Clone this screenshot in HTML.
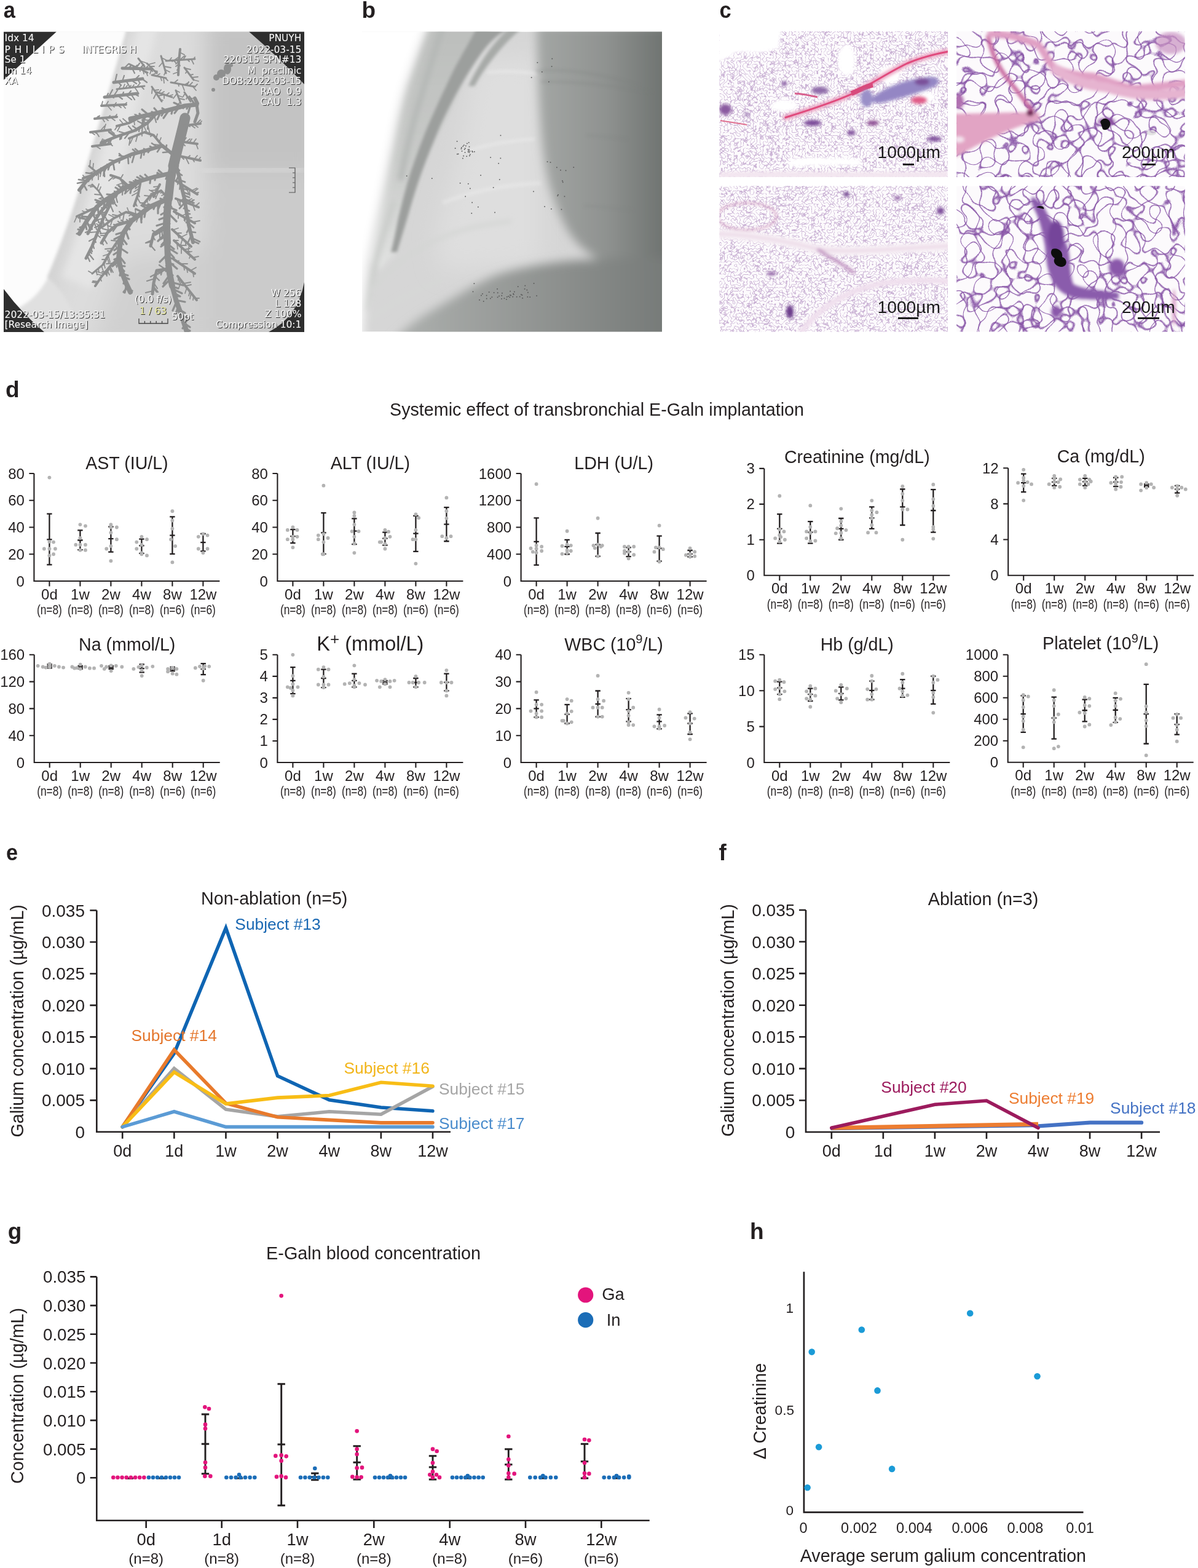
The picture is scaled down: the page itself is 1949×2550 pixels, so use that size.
<!DOCTYPE html><html><head><meta charset="utf-8"><title>Figure</title><style>html,body{margin:0;padding:0;background:#fff;}svg{display:block;}</style></head><body>
<svg width="1949" height="2550" viewBox="0 0 1949 2550" font-family="'Liberation Sans', Arial, Helvetica, sans-serif" fill="#231f20">
<rect width="1949" height="2550" fill="#fff"/>
<defs><clipPath id="cpa"><rect x="6" y="51.5" width="489" height="488.6"/></clipPath><filter id="blA" x="-50%" y="-50%" width="200%" height="200%"><feGaussianBlur stdDeviation="18"/></filter><filter id="blA2" x="-50%" y="-50%" width="200%" height="200%"><feGaussianBlur stdDeviation="6"/></filter><filter id="blT"><feGaussianBlur stdDeviation="0.6"/></filter><filter id="txo" x="-5%" y="-20%" width="110%" height="140%"><feOffset in="SourceAlpha" dx="0.9" dy="0.9" result="d"/><feFlood flood-color="#2a2a2a"/><feComposite in2="d" operator="in"/><feMerge><feMergeNode/><feMergeNode in="SourceGraphic"/></feMerge></filter></defs>
<g clip-path="url(#cpa)">
<rect x="6" y="51.5" width="489" height="488.6" fill="#d2d2d2"/>
<g filter="url(#blA)">
<path d="M200 30 L335 30 L335 300 L330 560 L60 560 C110 420 150 250 200 30Z" fill="#dcdcdc"/>
<path d="M200 420 L335 400 L335 560 L150 560Z" fill="#d0d0d0"/>
<path d="M335 30 L520 30 L520 277 L335 277Z" fill="#c3c3c3"/>
<path d="M335 277 L520 277 L520 560 L335 560Z" fill="#cbcbcb"/>
</g>
<g filter="url(#blA2)">
<path d="M230 30 C205 110 185 180 168 240 C150 310 125 390 100 450 L150 470 C170 400 190 320 205 250 C220 180 240 110 260 30Z" fill="#e5e5e5"/>
</g>
<filter id="blA3" x="-50%" y="-50%" width="200%" height="200%"><feGaussianBlur stdDeviation="2.5"/></filter>
<g filter="url(#blA3)">
<path d="M-10 30 L210 30 C193 100 170 180 150 245 C128 320 103 395 78 452 C60 485 35 505 -10 515Z" fill="#fcfcfc"/>
<path d="M-10 515 C35 505 60 485 78 452 C100 470 120 500 140 560 L-10 560Z" fill="#e0e0e0"/>
<path d="M210 40 C193 100 170 180 150 245 C128 320 103 395 78 452" fill="none" stroke="#d4d4d4" stroke-width="4"/>
</g>
<path d="M330 279 L495 275" stroke="#e8e8e8" stroke-width="4" filter="url(#blA2)"/>
<g fill="none" stroke="#8e8f8f" stroke-linecap="round" stroke-linejoin="round" filter="url(#blT)">
<path d="M301 192 L298 205 L293 225 L288 245 L282 270" stroke-width="17"/>
<path d="M282 270 L277 295 L274 323" stroke-width="14"/>
<path d="M274 323 L272 345 L271 366 L272 395" stroke-width="12"/>
<path d="M274 328 L279 337M273 332 L267 337M273 336 L287 342M272 343 L262 349M272 345 L287 360M272 352 L259 357M271 358 L276 364M271 362 L255 367M271 371 L253 382M271 378 L257 392M272 383 L261 389M272 388 L263 398M272 394 L262 401M272 396 L283 405M272 402 L288 412M273 408 L283 419M273 413 L260 426M273 418 L284 422M273 424 L288 437M274 427 L282 430M275 433 L260 444M275 438 L270 441M276 443 L281 448M276 447 L266 461M278 453 L265 466M279 459 L298 464M280 466 L290 469M281 470 L296 477M283 476 L293 482M284 481 L292 482M286 488 L301 491M287 491 L281 505M290 498 L286 510M292 504 L301 509M293 507 L291 515M296 514 L307 518M297 519 L304 522M299 525 L309 532M301 529 L297 534M303 535 L309 538M273 323 L267 321M268 326 L261 323M262 329 L257 341M257 331 L257 347M253 332 L250 340M248 335 L241 332M245 336 L232 332M240 339 L230 334M237 342 L235 353M232 345 L221 340M229 348 L230 362M226 350 L211 345M223 352 L215 350M217 357 L211 356M214 359 L213 364M211 363 L196 362M208 369 L211 373M204 374 L209 388M202 377 L189 381M200 382 L186 389M198 386 L206 397M197 393 L192 397M195 400 L186 407M195 403 L207 411M194 408 L185 414M193 415 L203 428M193 419 L186 422M194 424 L183 433M195 432 L203 433M196 435 L202 441M197 440 L195 448M199 445 L208 448M201 450 L210 454M203 456 L201 461M206 462 L203 476M208 466 L201 475M210 471 L215 473" stroke-width="3.2"/>
<path d="M272 395 L273 420 L276 445 L280 465" stroke-width="10"/>
<path d="M280 465 L287 490 L295 512 L304 540M274 323 L243 337 L214 359 L200 380 L195 400 L193 420 L197 440 L205 460 L212 475" stroke-width="8"/>
<path d="M320 170 L301 172 L278 178 L255 184 L232 189 L212 193M277 282 L250 288 L229 294 L207 304 L186 316 L170 326 L157 337 L142 358 L129 380" stroke-width="7"/>
<path d="M317 170 L308 157M310 171 L306 184M306 172 L304 177M300 172 L298 176M296 173 L283 167M291 175 L284 184M287 176 L287 180M281 177 L279 185M275 179 L266 192M271 180 L264 176M267 181 L263 188M261 183 L256 194M257 183 L251 176M252 185 L242 197M249 185 L247 182M242 187 L231 178M237 188 L232 202M234 189 L231 204M230 189 L227 185M224 191 L221 187M216 192 L210 200M273 283 L270 291M266 284 L258 277M262 285 L256 281M258 286 L256 283M253 287 L252 293M245 289 L244 298M242 290 L236 284M236 292 L228 286M232 293 L223 288M225 296 L220 294M220 298 L211 296M215 300 L212 314M210 303 L199 293M206 305 L204 314M200 308 L193 302M196 310 L188 305M192 313 L189 320M184 317 L174 316M179 321 L175 332M176 322 L174 330M171 325 L169 335M167 329 L155 325M164 331 L157 329M159 335 L160 346M156 338 L144 342M153 343 L153 351M150 347 L157 359M146 353 L133 352M143 357 L128 354M141 359 L147 373M139 364 L141 373M136 368 L130 370M132 374 L127 373M129 380 L125 380" stroke-width="3.1"/>
<path d="M320 170 L322 184 L317 198M229 294 L214 306 L200 304 L182 324 L164 344 L152 362 L143 380M186 316 L178 335 L168 355 L160 375 L150 400 L140 420M214 359 L190 366 L175 378 L165 395M271 366 L250 380 L245 400M276 437 L255 440 L250 460 L248 478M199 111 L247 112M185 134 L232 128M170 158 L224 152M255 184 L240 200 L220 212 L190 222 L165 232" stroke-width="5"/>
<path d="M286 266 L292 290 L300 323 L307 366 L314 394M280 250 L264 237 L240 244 L214 251 L186 263 L157 280 L140 295 L129 309M317 160 L321 168" stroke-width="6"/>
<path d="M286 268 L290 270M288 274 L292 277M289 280 L296 285M291 284 L287 293M293 293 L301 296M295 301 L300 303M296 306 L305 309M297 312 L307 316M298 317 L308 321M300 322 L293 328M300 325 L311 329M301 329 L292 339M302 336 L299 339M303 341 L308 343M304 347 L309 348M305 352 L300 358M306 358 L303 362M306 362 L315 370M308 371 L304 378M310 377 L318 378M311 383 L306 394M312 387 L325 393M314 392 L323 396M276 247 L265 248M270 242 L271 236M267 239 L259 239M262 238 L256 247M256 239 L247 233M249 241 L244 238M245 243 L241 248M238 244 L234 242M235 245 L234 252M231 246 L229 257M227 248 L220 242M223 249 L216 243M219 250 L215 264M212 252 L212 256M208 253 L209 266M205 255 L194 253M201 257 L194 250M195 259 L194 265M188 262 L178 260M184 264 L186 276M179 267 L176 276M174 270 L169 281M169 273 L170 287M164 276 L163 282M161 278 L159 283M156 281 L157 285M153 283 L140 281M148 288 L137 288M145 291 L144 295M141 294 L128 292M140 295 L126 298M136 300 L141 309M131 306 L131 314" stroke-width="2.7"/>
<path d="M293 230 L321 234M293 254 L326 261M286 294 L321 316M286 323 L323 337M283 344 L317 363M280 373 L311 401M283 391 L317 422M283 422 L317 445M289 449 L320 488M296 205 L326 201M200 380 L186 400 L176 415 L168 430M193 420 L180 432 L172 445M274 323 L262 310 L245 318 L235 330M260 300 L250 320M243 337 L225 350 L205 345 L185 355 L165 370M157 337 L140 345 L125 352M207 304 L195 290 L180 285M186 263 L170 275 L150 285 L135 290M180 432 L165 450 L155 465M229 294 L225 315 L218 335M165 172 L205 170M154 193 L190 190M147 215 L180 211M150 238 L180 234M232 189 L210 200 L190 205M264 237 L250 220 L235 215 L210 225M293 80 L291 100 L290 122" stroke-width="4"/>
<path d="M294 230 L301 237M298 231 L303 224M303 231 L309 226M308 232 L312 226M314 233 L319 226M319 234 L322 242M295 255 L299 259M302 256 L307 266M305 257 L309 253M313 258 L316 263M316 259 L321 253M323 260 L326 256M289 296 L289 300M293 299 L292 308M297 301 L298 307M303 305 L307 315M308 308 L309 318M312 310 L320 306M315 312 L322 307M318 314 L323 313M288 324 L292 334M292 325 L294 336M296 327 L300 334M302 329 L308 325M307 331 L316 325M311 332 L316 330M314 334 L317 342M318 335 L324 330M285 345 L287 349M290 348 L290 355M296 351 L304 347M299 353 L301 360M303 355 L312 354M307 357 L307 362M314 361 L325 359M281 374 L290 371M286 379 L295 379M289 382 L291 387M294 386 L304 381M297 388 L294 398M302 393 L302 399M308 398 L306 409M283 391 L290 391M288 396 L289 405M292 399 L303 399M295 402 L295 412M300 406 L309 404M303 409 L309 409M305 411 L312 409M310 415 L308 420M314 419 L323 417M287 425 L291 424M293 429 L305 429M299 433 L300 439M304 436 L305 443M310 440 L319 435M314 443 L315 450M290 451 L290 456M292 453 L292 459M295 457 L291 468M299 461 L310 459M302 465 L311 463M304 468 L301 477M309 474 L307 481M311 476 L309 486M315 482 L314 488M318 485 L324 485M299 205 L302 210M305 204 L309 206M310 203 L317 208M315 202 L322 207M319 202 L326 195M325 201 L328 197M198 383 L198 389M195 387 L201 398M192 392 L181 391M189 396 L189 402M183 404 L171 405M180 409 L175 408M177 413 L168 416M176 415 L179 426M174 418 L177 427M172 422 L166 422M169 428 L171 436M191 421 L191 433M187 426 L190 435M184 428 L173 429M180 432 L181 442M178 436 L181 443M175 441 L178 447M172 445 L174 449M274 323 L264 324M271 319 L273 314M268 316 L263 318M265 313 L261 314M258 312 L253 323M252 314 L243 309M248 317 L243 326M244 319 L235 318M239 325 L240 329M235 330 L228 330M259 303 L250 304M257 306 L253 307M255 309 L245 310M254 312 L245 315M252 317 L254 322M241 339 L232 336M235 343 L228 343M232 345 L231 357M226 350 L222 361M221 349 L220 340M215 348 L210 351M210 346 L207 338M202 347 L200 358M198 348 L194 344M195 350 L195 355M192 351 L183 349M187 354 L177 349M183 357 L180 366M180 359 L172 358M175 362 L176 373M171 366 L160 362M166 369 L157 364M157 337 L157 342M154 339 L152 348M150 340 L150 345M145 343 L140 340M139 345 L134 343M135 347 L133 353M130 350 L130 361M125 352 L121 361M170 326 L161 323M167 322 L163 322M165 317 L154 316M161 311 L164 304M158 308 L161 299M153 303 L147 304M151 301 L144 302M205 302 L199 303M201 297 L190 301M196 291 L200 284M190 288 L184 291M185 287 L177 294M184 265 L186 276M178 269 L174 267M172 274 L164 273M169 276 L168 286M165 277 L163 287M160 280 L160 292M154 283 L148 281M151 285 L150 293M148 286 L147 291M142 288 L141 294M138 289 L135 285M155 278 L145 282M151 275 L152 266M146 271 L147 261M179 433 L184 443M175 439 L174 448M172 442 L166 442M169 445 L158 442M166 448 L159 446M163 452 L165 457M160 458 L151 457M158 460 L150 459M165 432 L168 441M160 437 L161 443M156 440 L158 447M151 445 L144 441M228 297 L224 299M227 302 L220 307M227 306 L218 312M226 312 L215 318M225 316 L227 320M223 321 L228 330M220 328 L222 333M219 332 L223 335M301 323 L304 328M307 326 L312 323M311 328 L314 325M165 172 L167 165M172 172 L176 165M175 172 L181 179M182 171 L186 174M186 171 L189 167M192 171 L197 175M199 170 L204 176M203 170 L206 167M156 193 L160 189M160 193 L162 188M166 192 L170 198M171 192 L176 196M176 191 L179 188M180 191 L187 196M187 190 L190 186M148 215 L154 219M152 214 L157 217M156 214 L161 222M163 213 L170 205M169 212 L172 202M174 212 L178 214M178 211 L186 217M155 237 L163 242M162 236 L167 226M165 236 L169 227M169 235 L177 227M174 235 L180 227M179 234 L183 237M212 105 L213 113M216 107 L217 111M220 109 L223 106M227 112 L228 116M233 115 L234 120M238 117 L240 123M193 145 L197 138M200 144 L203 137M204 143 L207 139M210 143 L213 139M215 142 L218 138M219 142 L224 149M223 141 L228 135M230 141 L234 145M230 190 L219 186M224 193 L217 192M218 196 L219 203M215 198 L210 196M208 200 L200 193M201 202 L195 195M196 204 L191 213M191 205 L187 211M263 236 L251 235M259 231 L262 224M254 225 L256 218M248 219 L245 222M244 218 L241 206M239 216 L235 207M231 217 L231 221M224 219 L221 230M217 222 L212 233M212 224 L210 236M292 85 L300 89M292 92 L282 99M291 96 L280 100M291 100 L286 104M291 104 L286 108M291 111 L288 114M290 117 L282 120M263 94 L271 98M265 101 L259 108M267 108 L278 110M268 113 L276 117M269 117 L267 122M275 99 L279 94M282 98 L287 103M288 98 L293 107M292 98 L300 91M298 97 L302 91M305 97 L308 100M311 96 L315 104M315 96 L317 93M247 122 L256 118M254 124 L260 120M261 125 L263 131M266 126 L267 135M269 127 L273 131M283 135 L289 130M290 136 L291 140M296 137 L300 147M300 138 L307 134M304 139 L307 133M308 139 L313 134M313 140 L319 147M317 141 L321 137M286 147 L292 150M288 152 L282 160M289 155 L297 158M291 160 L300 162M293 166 L288 172M241 105 L252 102M244 108 L251 108M247 111 L244 120M251 115 L256 116M248 142 L247 152M251 147 L258 146M254 152 L250 160M257 156 L267 154M261 162 L265 163M301 111 L310 113M304 116 L302 119M309 122 L314 121M312 126 L322 125M315 130 L323 132M258 151 L262 146M262 152 L267 149M267 154 L267 160M270 155 L275 151M275 156 L281 154M228 99 L237 102M233 105 L229 110M301 152 L298 157M305 157 L303 161M307 161 L313 160" stroke-width="1.8"/>
<path d="M228 295 L220 292M225 297 L217 294M221 301 L221 305M215 305 L203 306M213 306 L203 315M206 305 L204 301M201 304 L198 295M200 304 L199 317M196 308 L191 308M192 313 L186 311M188 318 L191 329M184 322 L183 331M181 325 L184 332M178 328 L171 328M174 333 L170 334M170 337 L165 338M166 342 L168 349M164 345 L168 355M161 348 L156 350M157 355 L161 361M153 360 L157 373M151 365 L143 366M149 369 L150 373M146 375 L139 378M184 321 L187 330M182 326 L190 335M179 332 L184 344M177 338 L172 338M173 344 L168 346M170 351 L175 359M168 355 L157 358M167 358 L169 364M164 364 L157 369M163 367 L154 370M161 372 L164 379M159 377 L147 378M157 381 L163 386M156 386 L145 392M154 390 L156 394M151 397 L153 404M148 404 L150 409M146 408 L149 412M144 412 L152 422M142 416 L146 425M209 360 L206 357M203 362 L197 358M197 364 L192 360M192 365 L184 376M190 366 L185 365M185 370 L175 367M179 375 L167 372M174 379 L163 380M172 383 L164 383M169 388 L174 396M166 394 L168 398M268 368 L268 376M263 371 L264 383M260 373 L260 386M254 378 L248 375M249 385 L252 390M248 390 L237 395M247 393 L238 395M245 399 L252 407M272 438 L270 432M269 438 L259 431M264 439 L262 447M260 439 L257 446M255 440 L250 452M254 445 L245 450M253 450 L259 456M252 453 L239 457M250 460 L256 469M249 465 L257 475M249 468 L255 475M249 473 L237 476M202 111 L209 104M208 111 L213 107M215 111 L219 119M221 111 L227 103M227 112 L234 105M230 112 L237 118M237 112 L240 108M244 112 L248 116M187 134 L190 121M192 133 L197 139M199 132 L202 123M205 131 L212 143M213 130 L222 136M219 130 L226 123M224 129 L227 134M231 128 L239 134M173 158 L176 152M177 157 L183 146M181 157 L185 159M185 156 L191 147M192 156 L199 161M199 155 L201 150M204 154 L214 162M208 154 L213 148M213 153 L219 162M219 153 L225 156M255 184 L248 182M251 188 L254 199M248 192 L238 189M244 196 L236 195M241 199 L240 210M238 201 L231 195M235 203 L224 197M232 205 L231 214M227 208 L226 214M223 210 L216 205M216 213 L209 205M211 215 L203 225M204 217 L194 214M199 219 L197 226M196 220 L195 227M191 222 L179 215M188 223 L177 215M182 225 L179 232M177 227 L176 235M170 230 L167 236" stroke-width="2.2"/>
<path d="M170 326 L160 310 L150 300M157 280 L145 270M168 430 L150 445M300 323 L315 330M210 104 L240 118M190 145 L235 140M262 91 L270 119M270 99 L317 96M247 122 L270 127M278 134 L317 141M286 147 L294 168M239 103 L255 119M247 141 L263 165M300 110 L315 130M255 150 L280 158M225 95 L235 108M300 150 L310 165" stroke-width="3"/>
</g>
<g fill="#8e8f8f" filter="url(#blT)"><ellipse cx="370" cy="112" rx="6" ry="9"/><ellipse cx="360" cy="120" rx="7" ry="7"/><ellipse cx="352" cy="126" rx="5" ry="5"/><circle cx="376" cy="106" r="3"/><circle cx="347" cy="146" r="3"/></g>
<path d="M6 51.5 L92 51.5 L6 130Z" fill="#2e2e2e"/>
<path d="M405 51.5 L495 51.5 L495 137 Q452 92 405 51.5Z" fill="#2e2e2e"/>
<path d="M6 470 Q36 510 72 540 L6 540Z" fill="#2e2e2e"/>
<path d="M495 459 Q485 515 437 540 L495 540Z" fill="#2e2e2e"/>
<path d="M470 273H480V313H470M476 281H480M476 289H480M476 297H480M476 305H480" fill="none" stroke="#555" stroke-width="1.2"/>
</g>
<g font-family="DejaVu Sans, Verdana, sans-serif" font-size="15.4" fill="#f4f4f4" filter="url(#txo)">
<text x="7.6" y="67.3">Idx 14</text>
<text x="7.6" y="102.2">Se 1</text>
<text x="7.6" y="119.5">Im 14</text>
<text x="7.6" y="137.1">XA</text>
<text x="7.6" y="516.6">2022-03-15/13:35:31</text>
<text x="7.6" y="533.3">[Research Image]</text>
<text x="7.6" y="85.5" textLength="97" lengthAdjust="spacing">P H I L I P S</text>
<text x="133.6" y="85.5">INTEGRIS H</text>
<text x="490.3" y="67.3" text-anchor="end" xml:space="preserve">PNUYH</text>
<text x="490.3" y="85.5" text-anchor="end" xml:space="preserve">2022-03-15</text>
<text x="490.3" y="102.2" text-anchor="end" xml:space="preserve">220315 SPN#13</text>
<text x="490.3" y="119.5" text-anchor="end" xml:space="preserve">M  preclinic</text>
<text x="490.3" y="136.5" text-anchor="end" xml:space="preserve">DOB:2022-03-15</text>
<text x="490.3" y="153.8" text-anchor="end" xml:space="preserve">RAO  0.9</text>
<text x="490.3" y="170.5" text-anchor="end" xml:space="preserve">CAU  1.3</text>
<text x="490.3" y="481.7" text-anchor="end" xml:space="preserve">W 256</text>
<text x="490.3" y="499" text-anchor="end" xml:space="preserve">L 128</text>
<text x="490.3" y="516" text-anchor="end" xml:space="preserve">Z 100%</text>
<text x="490.3" y="533.3" text-anchor="end" xml:space="preserve">Compression 10:1</text>
<text x="249" y="492.3" text-anchor="middle">(0.0 f/s)</text>
<text x="249" y="510.5" text-anchor="middle" fill="#e8e8a0">1 / 63</text>
<text x="279.3" y="519.7">50pt</text>
</g>
<path d="M226 518V526H273V518M235.4 522V526M244.8 522V526M254.2 522V526M263.6 522V526" fill="none" stroke="#444" stroke-width="1.3"/>
<defs><clipPath id="cpb"><rect x="589" y="51.5" width="488" height="488"/></clipPath><filter id="blB" x="-50%" y="-50%" width="200%" height="200%"><feGaussianBlur stdDeviation="8"/></filter><filter id="blB3" x="-50%" y="-50%" width="200%" height="200%"><feGaussianBlur stdDeviation="18"/></filter><filter id="blB2" x="-50%" y="-50%" width="200%" height="200%"><feGaussianBlur stdDeviation="2.5"/></filter><filter id="blB4" x="-50%" y="-50%" width="200%" height="200%"><feGaussianBlur stdDeviation="4"/></filter><linearGradient id="gHeart" x1="0" x2="1" y1="0" y2="0"><stop offset="0" stop-color="#a4a7a5"/><stop offset="0.5" stop-color="#8f9290"/><stop offset="1" stop-color="#686d6a"/></linearGradient><linearGradient id="gDia" x1="0" x2="1" y1="0" y2="0"><stop offset="0" stop-color="#aeb1af"/><stop offset="0.45" stop-color="#959896"/><stop offset="1" stop-color="#747876"/></linearGradient><linearGradient id="gBand" x1="0" x2="0" y1="0" y2="1"><stop offset="0" stop-color="#bcbebc"/><stop offset="0.55" stop-color="#c8cac8"/><stop offset="1" stop-color="#e2e3e2"/></linearGradient></defs>
<g clip-path="url(#cpb)">
<rect x="589" y="51.5" width="488" height="488" fill="#d6d6d6"/>
<g filter="url(#blB3)">
<path d="M775 100 C760 160 757 220 740 280 C720 340 700 400 720 440 L880 430 L880 90Z" fill="#dedede"/>
</g>
<g filter="url(#blB4)">
<path d="M696 40 L805 40 C790 65 775 90 762 112 C750 135 740 160 730 180 C718 205 708 225 697 243 C688 262 684 280 679 292 C672 315 667 330 662 342 C655 370 650 390 645 410 L615 440 L600 420 C606 380 614 350 621 319 C628 285 633 258 639 230 C645 200 652 170 660 140 C672 105 684 70 696 40Z" fill="url(#gBand)"/>
</g>
<g filter="url(#blB2)">
<path d="M776 45 C760 75 748 95 740 110 C730 130 722 148 714 165 C705 185 698 200 690 220 C682 240 675 260 668 280 C660 305 654 330 648 355 C644 375 640 395 636 410 L646 410 C652 390 658 370 664 350 C671 325 678 302 686 280 C694 258 703 236 712 214 C720 194 730 175 740 156 C752 134 766 110 782 88 C795 70 810 55 830 45Z" fill="#9c9f9d"/>
<path d="M830 45 C812 60 798 78 786 96 C776 112 768 126 762 140 L772 140 C780 125 790 110 802 95 C815 78 830 62 850 45Z" fill="#a7aaa8"/>
</g>
<g fill="none" stroke-linecap="round" filter="url(#blB4)">
<path d="M720 45 C705 90 690 140 678 180 C668 215 660 250 652 290" stroke="#b4b7b5" stroke-width="8"/>
<path d="M640 330 C630 360 620 390 612 420 C606 445 600 470 595 500" stroke="#cbcdcb" stroke-width="10"/>
<path d="M605 470 C630 440 660 415 700 395 C740 375 780 365 830 360" stroke="#d4d6d4" stroke-width="6"/>
<path d="M600 520 C640 490 680 470 720 455" stroke="#d6d8d6" stroke-width="5"/>
</g>
<g filter="url(#blB)">
<path d="M560 30 L700 30 C684 70 672 105 660 140 C650 172 645 200 639 230 C632 262 627 290 621 319 C614 350 606 390 600 420 C595 450 592 490 589 560 L560 560Z" fill="#ffffff"/>
<path d="M873 40 L1100 40 L1100 422 L975 422 C955 412 935 395 922 372 C908 345 895 315 887 270 C880 225 876 170 873 40Z" fill="url(#gHeart)"/>
<path d="M635 560 C660 530 690 512 732 488 C760 472 790 452 821 443 C860 432 900 426 944 423 C1000 420 1050 419 1100 419 L1100 560Z" fill="url(#gDia)"/>
</g>
<g fill="none" stroke="#eeeeee" stroke-width="6" filter="url(#blB2)" opacity="0.45"><path d="M792 118 C820 115 845 116 872 120"/><path d="M745 250 C790 235 830 228 870 226"/><path d="M720 330 C770 310 820 300 880 298"/></g>
<g fill="none" stroke="#7c807e" stroke-width="1.6" filter="url(#blB2)" opacity="0.5"><path d="M872 115 C930 112 980 120 1040 140"/><path d="M880 133 C940 132 1000 140 1060 150"/><path d="M955 220 C980 222 1000 224 1020 226"/><path d="M950 335 C980 336 1000 338 1030 342"/></g>
<g fill="#555"><rect x="755.7" y="247.09" width="1.6" height="1.6"/><rect x="755.97" y="240.48" width="1.6" height="1.6"/><rect x="749.63" y="241.29" width="1.6" height="1.6"/><rect x="768.01" y="246.39" width="1.6" height="1.6"/><rect x="767.33" y="244.99" width="1.6" height="1.6"/><rect x="761.55" y="244.48" width="1.6" height="1.6"/><rect x="743.01" y="249.84" width="1.6" height="1.6"/><rect x="762.56" y="246.99" width="1.6" height="1.6"/><rect x="742.78" y="229.05" width="1.6" height="1.6"/><rect x="749.99" y="239.25" width="1.6" height="1.6"/><rect x="760.75" y="242.63" width="1.6" height="1.6"/><rect x="762.69" y="237.86" width="1.6" height="1.6"/><rect x="760.78" y="246.15" width="1.6" height="1.6"/><rect x="752.05" y="256.74" width="1.6" height="1.6"/><rect x="763.01" y="252.58" width="1.6" height="1.6"/><rect x="752.42" y="237.08" width="1.6" height="1.6"/><rect x="754.9" y="242.15" width="1.6" height="1.6"/><rect x="763.69" y="244.99" width="1.6" height="1.6"/><rect x="753.97" y="235.34" width="1.6" height="1.6"/><rect x="753.31" y="252.77" width="1.6" height="1.6"/><rect x="750.73" y="244.96" width="1.6" height="1.6"/><rect x="761.84" y="231.08" width="1.6" height="1.6"/><rect x="758.44" y="253.45" width="1.6" height="1.6"/><rect x="739.87" y="240.43" width="1.6" height="1.6"/><rect x="757.04" y="236.46" width="1.6" height="1.6"/><rect x="762.48" y="242.5" width="1.6" height="1.6"/><rect x="744.82" y="249.62" width="1.6" height="1.6"/><rect x="764.02" y="250.57" width="1.6" height="1.6"/><rect x="770.97" y="245.9" width="1.6" height="1.6"/><rect x="759.07" y="232.61" width="1.6" height="1.6"/><rect x="836" y="473.72" width="1.6" height="1.6"/><rect x="808.23" y="469.15" width="1.6" height="1.6"/><rect x="794.84" y="474.28" width="1.6" height="1.6"/><rect x="853.51" y="463.78" width="1.6" height="1.6"/><rect x="782.1" y="479.68" width="1.6" height="1.6"/><rect x="857.53" y="482.05" width="1.6" height="1.6"/><rect x="770.6" y="460.37" width="1.6" height="1.6"/><rect x="829.29" y="472.85" width="1.6" height="1.6"/><rect x="790.89" y="484.84" width="1.6" height="1.6"/><rect x="848.65" y="479.1" width="1.6" height="1.6"/><rect x="826.39" y="481.04" width="1.6" height="1.6"/><rect x="861.44" y="482.33" width="1.6" height="1.6"/><rect x="833.48" y="481.83" width="1.6" height="1.6"/><rect x="779.22" y="486.97" width="1.6" height="1.6"/><rect x="844.83" y="481.71" width="1.6" height="1.6"/><rect x="768.68" y="473.56" width="1.6" height="1.6"/><rect x="841.9" y="465.32" width="1.6" height="1.6"/><rect x="815.22" y="485.14" width="1.6" height="1.6"/><rect x="785.91" y="489.27" width="1.6" height="1.6"/><rect x="834.35" y="476.95" width="1.6" height="1.6"/><rect x="828.45" y="482.55" width="1.6" height="1.6"/><rect x="823.13" y="486.02" width="1.6" height="1.6"/><rect x="802.8" y="475.1" width="1.6" height="1.6"/><rect x="847.08" y="478.19" width="1.6" height="1.6"/><rect x="797.11" y="484.63" width="1.6" height="1.6"/><rect x="858.1" y="474.89" width="1.6" height="1.6"/><rect x="784.12" y="477.06" width="1.6" height="1.6"/><rect x="816.13" y="475.91" width="1.6" height="1.6"/><rect x="856.52" y="470.81" width="1.6" height="1.6"/><rect x="852.78" y="469.12" width="1.6" height="1.6"/><rect x="799.54" y="482.42" width="1.6" height="1.6"/><rect x="849.35" y="484.01" width="1.6" height="1.6"/><rect x="828.98" y="479" width="1.6" height="1.6"/><rect x="823.96" y="482.03" width="1.6" height="1.6"/><rect x="815.42" y="479.94" width="1.6" height="1.6"/><rect x="834.89" y="478.01" width="1.6" height="1.6"/><rect x="839.86" y="481.96" width="1.6" height="1.6"/><rect x="872.28" y="480.27" width="1.6" height="1.6"/><rect x="808.88" y="475.39" width="1.6" height="1.6"/><rect x="819.66" y="484.47" width="1.6" height="1.6"/><rect x="811.25" y="480.7" width="1.6" height="1.6"/><rect x="867.77" y="460.05" width="1.6" height="1.6"/><rect x="790.78" y="479.71" width="1.6" height="1.6"/><rect x="830.36" y="479.67" width="1.6" height="1.6"/><rect x="808.79" y="482.59" width="1.6" height="1.6"/><rect x="781.29" y="284.34" width="1.6" height="1.6"/><rect x="867.2" y="310.65" width="1.6" height="1.6"/><rect x="747.83" y="297.02" width="1.6" height="1.6"/><rect x="760.98" y="298.12" width="1.6" height="1.6"/><rect x="660.88" y="285.39" width="1.6" height="1.6"/><rect x="810.34" y="264.94" width="1.6" height="1.6"/><rect x="767.33" y="328.61" width="1.6" height="1.6"/><rect x="804.25" y="344.73" width="1.6" height="1.6"/><rect x="701.94" y="289.4" width="1.6" height="1.6"/><rect x="756.36" y="318.7" width="1.6" height="1.6"/><rect x="813.67" y="219.52" width="1.6" height="1.6"/><rect x="813.55" y="256.57" width="1.6" height="1.6"/><rect x="797.33" y="255.24" width="1.6" height="1.6"/><rect x="777.03" y="335.84" width="1.6" height="1.6"/><rect x="764.03" y="305.73" width="1.6" height="1.6"/><rect x="801.88" y="304.24" width="1.6" height="1.6"/><rect x="766.46" y="346" width="1.6" height="1.6"/><rect x="811.94" y="291.19" width="1.6" height="1.6"/><rect x="932.45" y="271.33" width="1.6" height="1.6"/><rect x="914.15" y="293.36" width="1.6" height="1.6"/><rect x="906.32" y="317.63" width="1.6" height="1.6"/><rect x="907.22" y="315.97" width="1.6" height="1.6"/><rect x="889.73" y="262.26" width="1.6" height="1.6"/><rect x="911.15" y="275.92" width="1.6" height="1.6"/><rect x="894.73" y="263.25" width="1.6" height="1.6"/><rect x="917.66" y="318.66" width="1.6" height="1.6"/><rect x="919.73" y="276.56" width="1.6" height="1.6"/><rect x="905.01" y="271.49" width="1.6" height="1.6"/><rect x="912.66" y="339.74" width="1.6" height="1.6"/><rect x="896.1" y="339.01" width="1.6" height="1.6"/><rect x="914.88" y="295.55" width="1.6" height="1.6"/><rect x="885.28" y="335.17" width="1.6" height="1.6"/><rect x="873.56" y="100.96" width="1.6" height="1.6"/><rect x="880.99" y="116.15" width="1.6" height="1.6"/><rect x="897.47" y="94.7" width="1.6" height="1.6"/><rect x="892.04" y="132.31" width="1.6" height="1.6"/><rect x="896.78" y="107.29" width="1.6" height="1.6"/><rect x="863.84" y="125.28" width="1.6" height="1.6"/></g>
</g>
<defs>
<filter id="meshF" x="0" y="0" width="100%" height="100%" color-interpolation-filters="sRGB"><feTurbulence type="fractalNoise" baseFrequency="0.19" numOctaves="1" seed="3"/><feColorMatrix type="matrix" values="1 0 0 0 0  1 0 0 0 0  1 0 0 0 0  0 0 0 0 1" result="n1"/><feTurbulence type="fractalNoise" baseFrequency="0.0703" numOctaves="1" seed="20"/><feColorMatrix type="matrix" values="1 0 0 0 0  1 0 0 0 0  1 0 0 0 0  0 0 0 0 1" result="n2"/><feComposite in="n1" in2="n2" operator="arithmetic" k2="1" k3="0.3" k4="-0.15" result="n"/><feColorMatrix in="n" type="matrix" values="0 0 0 0 0  0 0 0 0 0  0 0 0 0 0  1 0 0 0 0" result="a"/><feComponentTransfer in="a" result="b"><feFuncA type="table" tableValues="0 0 0 0 0 0 0 0 0.62 0 0 0 0 0 0 0 0"/></feComponentTransfer><feFlood flood-color="#9f74b2"/><feComposite in2="b" operator="in"/></filter>
<filter id="meshF2" x="0" y="0" width="100%" height="100%" color-interpolation-filters="sRGB"><feTurbulence type="fractalNoise" baseFrequency="0.19" numOctaves="1" seed="8"/><feColorMatrix type="matrix" values="1 0 0 0 0  1 0 0 0 0  1 0 0 0 0  0 0 0 0 1" result="n1"/><feTurbulence type="fractalNoise" baseFrequency="0.0703" numOctaves="1" seed="25"/><feColorMatrix type="matrix" values="1 0 0 0 0  1 0 0 0 0  1 0 0 0 0  0 0 0 0 1" result="n2"/><feComposite in="n1" in2="n2" operator="arithmetic" k2="1" k3="0.3" k4="-0.15" result="n"/><feColorMatrix in="n" type="matrix" values="0 0 0 0 0  0 0 0 0 0  0 0 0 0 0  1 0 0 0 0" result="a"/><feComponentTransfer in="a" result="b"><feFuncA type="table" tableValues="0 0 0 0 0 0 0 0 0.62 0 0 0 0 0 0 0 0"/></feComponentTransfer><feFlood flood-color="#9f74b2"/><feComposite in2="b" operator="in"/></filter>
<filter id="meshC" x="0" y="0" width="100%" height="100%" color-interpolation-filters="sRGB"><feTurbulence type="fractalNoise" baseFrequency="0.042" numOctaves="1" seed="5"/><feColorMatrix type="matrix" values="1 0 0 0 0  1 0 0 0 0  1 0 0 0 0  0 0 0 0 1" result="n1"/><feTurbulence type="fractalNoise" baseFrequency="0.0155" numOctaves="1" seed="22"/><feColorMatrix type="matrix" values="1 0 0 0 0  1 0 0 0 0  1 0 0 0 0  0 0 0 0 1" result="n2"/><feComposite in="n1" in2="n2" operator="arithmetic" k2="1" k3="0.3" k4="-0.15" result="n"/><feColorMatrix in="n" type="matrix" values="0 0 0 0 0  0 0 0 0 0  0 0 0 0 0  1 0 0 0 0" result="a"/><feComponentTransfer in="a" result="b"><feFuncA type="table" tableValues="0 0 0 0 0 0 0 0 0 0 0 0 0 0 0 0 0.95 0 0 0 0 0 0 0 0 0 0 0 0 0 0 0 0"/></feComponentTransfer><feFlood flood-color="#8450a4"/><feComposite in2="b" operator="in"/></filter>
<filter id="meshCb" x="0" y="0" width="100%" height="100%" color-interpolation-filters="sRGB"><feTurbulence type="fractalNoise" baseFrequency="0.042" numOctaves="1" seed="31"/><feColorMatrix type="matrix" values="1 0 0 0 0  1 0 0 0 0  1 0 0 0 0  0 0 0 0 1" result="n1"/><feTurbulence type="fractalNoise" baseFrequency="0.0155" numOctaves="1" seed="48"/><feColorMatrix type="matrix" values="1 0 0 0 0  1 0 0 0 0  1 0 0 0 0  0 0 0 0 1" result="n2"/><feComposite in="n1" in2="n2" operator="arithmetic" k2="1" k3="0.3" k4="-0.15" result="n"/><feColorMatrix in="n" type="matrix" values="0 0 0 0 0  0 0 0 0 0  0 0 0 0 0  1 0 0 0 0" result="a"/><feComponentTransfer in="a" result="b"><feFuncA type="table" tableValues="0 0 0 0 0 0 0 0 0 0 0 0 0 0 0 0 0.95 0 0 0 0 0 0 0 0 0 0 0 0 0 0 0 0"/></feComponentTransfer><feFlood flood-color="#8450a4"/><feComposite in2="b" operator="in"/></filter>
<filter id="meshC2" x="0" y="0" width="100%" height="100%" color-interpolation-filters="sRGB"><feTurbulence type="fractalNoise" baseFrequency="0.042" numOctaves="1" seed="9"/><feColorMatrix type="matrix" values="1 0 0 0 0  1 0 0 0 0  1 0 0 0 0  0 0 0 0 1" result="n1"/><feTurbulence type="fractalNoise" baseFrequency="0.0155" numOctaves="1" seed="26"/><feColorMatrix type="matrix" values="1 0 0 0 0  1 0 0 0 0  1 0 0 0 0  0 0 0 0 1" result="n2"/><feComposite in="n1" in2="n2" operator="arithmetic" k2="1" k3="0.3" k4="-0.15" result="n"/><feColorMatrix in="n" type="matrix" values="0 0 0 0 0  0 0 0 0 0  0 0 0 0 0  1 0 0 0 0" result="a"/><feComponentTransfer in="a" result="b"><feFuncA type="table" tableValues="0 0 0 0 0 0 0 0 0 0 0 0 0 0 0 0 0.95 0 0 0 0 0 0 0 0 0 0 0 0 0 0 0 0"/></feComponentTransfer><feFlood flood-color="#8450a4"/><feComposite in2="b" operator="in"/></filter>
<filter id="meshC2b" x="0" y="0" width="100%" height="100%" color-interpolation-filters="sRGB"><feTurbulence type="fractalNoise" baseFrequency="0.042" numOctaves="1" seed="41"/><feColorMatrix type="matrix" values="1 0 0 0 0  1 0 0 0 0  1 0 0 0 0  0 0 0 0 1" result="n1"/><feTurbulence type="fractalNoise" baseFrequency="0.0155" numOctaves="1" seed="58"/><feColorMatrix type="matrix" values="1 0 0 0 0  1 0 0 0 0  1 0 0 0 0  0 0 0 0 1" result="n2"/><feComposite in="n1" in2="n2" operator="arithmetic" k2="1" k3="0.3" k4="-0.15" result="n"/><feColorMatrix in="n" type="matrix" values="0 0 0 0 0  0 0 0 0 0  0 0 0 0 0  1 0 0 0 0" result="a"/><feComponentTransfer in="a" result="b"><feFuncA type="table" tableValues="0 0 0 0 0 0 0 0 0 0 0 0 0 0 0 0 0.95 0 0 0 0 0 0 0 0 0 0 0 0 0 0 0 0"/></feComponentTransfer><feFlood flood-color="#8450a4"/><feComposite in2="b" operator="in"/></filter>
<filter id="blC" x="-50%" y="-50%" width="200%" height="200%"><feGaussianBlur stdDeviation="2.5"/></filter>
<filter id="blC2" x="-50%" y="-50%" width="200%" height="200%"><feGaussianBlur stdDeviation="6"/></filter>
<clipPath id="cpc0"><rect x="1170.4" y="51" width="371.6" height="237.1"/></clipPath>
<clipPath id="cpc1"><rect x="1556.1" y="51" width="371.6" height="237.1"/></clipPath>
<clipPath id="cpc2"><rect x="1170.4" y="302.4" width="371.6" height="237.1"/></clipPath>
<clipPath id="cpc3"><rect x="1556.1" y="302.4" width="371.6" height="237.1"/></clipPath>
</defs>
<g clip-path="url(#cpc0)">
<rect x="1170.4" y="51" width="371.6" height="237.1" fill="#fcfafc"/>
<rect x="1170.4" y="51" width="371.6" height="237.1" filter="url(#meshF)"/>
<g fill="#ffffff" filter="url(#blC)"><path d="M1165 45 L1272 45 L1268 78 L1240 86 L1200 85 L1165 105Z"/><ellipse cx="1377" cy="98" rx="14" ry="26"/><ellipse cx="1275" cy="172" rx="22" ry="10"/><path d="M1285 258 C1320 254 1360 256 1400 258 L1400 270 C1360 268 1320 270 1285 272Z"/><ellipse cx="1447" cy="122" rx="18" ry="14"/><ellipse cx="1508" cy="158" rx="14" ry="9"/></g>
<path d="M1278 191 C1320 178 1360 165 1392 150 C1420 135 1445 118 1476 103 C1500 93 1520 88 1542 84" fill="none" stroke="#eaa0c0" stroke-width="9" stroke-linecap="round" filter="url(#blC)"/>
<path d="M1278 191 C1320 178 1360 165 1392 150 C1420 135 1445 118 1476 103 C1500 93 1520 88 1542 84" fill="none" stroke="#e04a7c" stroke-width="3" stroke-linecap="round"/>
<path d="M1385 152 C1400 146 1410 140 1420 138" fill="none" stroke="#d84a7c" stroke-width="8"/>
<path d="M1293 152 C1310 153 1320 156 1330 158" fill="none" stroke="#d8608e" stroke-width="3"/>
<path d="M1172 196 C1190 199 1205 201 1215 203" fill="none" stroke="#e07090" stroke-width="2"/>
<g filter="url(#blC)"><path d="M1418 160 C1440 140 1480 128 1510 125 C1528 124 1532 132 1522 140 C1500 150 1470 158 1440 166 C1428 169 1416 168 1418 160Z" fill="#9486c4"/><ellipse cx="1410" cy="160" rx="10" ry="14" fill="#9a8fc8"/><ellipse cx="1500" cy="133" rx="12" ry="6" fill="#7a4f9a"/><ellipse cx="1334" cy="147" rx="14" ry="6" fill="#8e6aa8"/><ellipse cx="1495" cy="163" rx="13" ry="6" fill="#e05a86"/><ellipse cx="1322" cy="200" rx="14" ry="5" fill="#7a4a98"/><ellipse cx="1385" cy="216" rx="7" ry="4" fill="#7a4a98"/><ellipse cx="1180" cy="178" rx="10" ry="9" fill="#8a5aa0"/><ellipse cx="1520" cy="226" rx="12" ry="4" fill="#7a4a98"/><ellipse cx="1215" cy="186" rx="3" ry="3" fill="#7a4a98"/><ellipse cx="1276" cy="136" rx="4" ry="4" fill="#7a4a98"/><ellipse cx="1420" cy="200" rx="10" ry="4" fill="#8a4a90"/></g>
<path d="M1170 280 C1250 276 1350 282 1542 278 L1542 290 L1170 290Z" fill="#f3e6f0" filter="url(#blC)"/>
</g>
<g clip-path="url(#cpc1)">
<rect x="1556.1" y="51" width="371.6" height="237.1" fill="#fcfafc"/>
<rect x="1556.1" y="51" width="371.6" height="237.1" filter="url(#meshC)"/>
<rect x="1556.1" y="51" width="371.6" height="237.1" filter="url(#meshCb)"/>
<g filter="url(#blC)"><path d="M1550 185 C1590 185 1640 182 1690 183 L1692 196 C1650 205 1600 230 1550 258Z" fill="#e2a4c4"/><ellipse cx="1560" cy="227" rx="9" ry="5" fill="#f4e4ee"/><path d="M1607 57 C1612 80 1620 105 1640 129 C1652 145 1665 160 1680 182" fill="none" stroke="#c86aa0" stroke-width="7"/><path d="M1607 57 C1625 52 1660 60 1689 73 C1700 85 1705 100 1712 107 C1730 120 1760 124 1778 124 C1800 130 1820 140 1845 144 C1880 142 1910 137 1935 135" fill="none" stroke="#e0a0c4" stroke-width="12"/><path d="M1712 110 C1740 130 1770 140 1800 142 C1830 152 1870 160 1935 150" fill="none" stroke="#e6b4d0" stroke-width="16"/><ellipse cx="1676" cy="184" rx="6" ry="5" fill="#6a1a50"/><ellipse cx="1560" cy="165" rx="8" ry="12" fill="#b070b0"/><ellipse cx="1905" cy="70" rx="25" ry="18" fill="#c890c0" opacity="0.7"/><ellipse cx="1800" cy="198" rx="14" ry="6" fill="#8a4fa0"/></g>
<path d="M1790 198 C1795 190 1803 192 1806 199 C1808 207 1800 214 1794 210Z" fill="#111"/>
<ellipse cx="1873" cy="216" rx="8" ry="4" fill="#d8d8d8" opacity="0.7"/>
</g>
<g clip-path="url(#cpc2)">
<rect x="1170.4" y="302.4" width="371.6" height="237.1" fill="#fcfafc"/>
<rect x="1170.4" y="302.4" width="371.6" height="237.1" filter="url(#meshF2)"/>
<g filter="url(#blC)"><ellipse cx="1215" cy="352" rx="48" ry="22" fill="none" stroke="#d8a8c8" stroke-width="3"/><path d="M1165 380 C1220 382 1280 392 1330 405 C1380 412 1440 405 1545 400" fill="none" stroke="#f6eef4" stroke-width="16"/><path d="M1165 380 C1220 382 1280 392 1330 405 C1380 412 1440 405 1545 400" fill="none" stroke="#e0c0d8" stroke-width="2"/><path d="M1330 405 C1350 420 1375 430 1390 445" fill="none" stroke="#c8a0c8" stroke-width="6"/><path d="M1300 545 C1330 500 1380 470 1440 460 C1480 455 1520 455 1545 458" fill="none" stroke="#f0e0ee" stroke-width="10"/><ellipse cx="1285" cy="507" rx="6" ry="11" fill="#6a3a8a"/><ellipse cx="1377" cy="316" rx="5" ry="4" fill="#6a3a8a"/><ellipse cx="1530" cy="343" rx="6" ry="6" fill="#7a4a98"/><ellipse cx="1255" cy="445" rx="8" ry="3" fill="#8a5aa0"/><ellipse cx="1460" cy="322" rx="6" ry="3" fill="#8a5aa0"/></g>
</g>
<g clip-path="url(#cpc3)">
<rect x="1556.1" y="302.4" width="371.6" height="237.1" fill="#fcfafc"/>
<rect x="1556.1" y="302.4" width="371.6" height="237.1" filter="url(#meshC2)"/>
<rect x="1556.1" y="302.4" width="371.6" height="237.1" filter="url(#meshC2b)"/>
<g filter="url(#blC)"><path d="M1680 320 C1692 326 1700 338 1706 352 C1716 368 1732 385 1738 405 C1742 425 1740 445 1746 462 C1760 470 1790 472 1820 476 L1820 486 C1790 488 1760 488 1745 484 C1728 478 1716 468 1710 452 C1702 435 1702 418 1700 400 C1697 382 1692 362 1686 347 C1680 335 1674 324 1680 320Z" fill="#8a5cac"/><ellipse cx="1718" cy="385" rx="13" ry="26" fill="#74449a"/><ellipse cx="1817" cy="435" rx="13" ry="14" fill="#8a58aa"/><ellipse cx="1718" cy="507" rx="8" ry="10" fill="#8a58aa"/><ellipse cx="1910" cy="500" rx="3" ry="30" fill="#d8a0c8"/></g>
<path d="M1712 405 C1722 402 1730 410 1728 418 C1736 420 1738 432 1728 434 C1718 434 1712 426 1716 420 C1710 416 1708 410 1712 405Z" fill="#0d0d0d"/>
<path d="M1686 337 C1692 333 1700 336 1698 340Z" fill="#111"/>
</g>
<g font-size="28.2" fill="#1a1a1a">
<text x="1427.6" y="257">1000µm</text><text x="1427.6" y="508.6">1000µm</text>
<text x="1825" y="257">200µm</text><text x="1825" y="508.6">200µm</text>
</g>
<path d="M1469 267.6H1487M1461 517.6H1494M1858.5 267.6H1880M1851 517.6H1886" stroke="#1a1a1a" stroke-width="3"/>
<text x="5.8" y="29" font-size="37" font-weight="bold" textLength="19.1" lengthAdjust="spacingAndGlyphs">a</text>
<text x="588.5" y="28.6" font-size="37" font-weight="bold" textLength="22.6" lengthAdjust="spacingAndGlyphs">b</text>
<text x="1170.4" y="29" font-size="37" font-weight="bold" textLength="19.1" lengthAdjust="spacingAndGlyphs">c</text>
<text x="9.1" y="645.6" font-size="37" font-weight="bold" textLength="22.6" lengthAdjust="spacingAndGlyphs">d</text>
<text x="10" y="1398.8" font-size="37" font-weight="bold" textLength="19.1" lengthAdjust="spacingAndGlyphs">e</text>
<text x="1169.6" y="1398.5" font-size="37" font-weight="bold" textLength="12.3" lengthAdjust="spacingAndGlyphs">f</text>
<text x="12.8" y="2015" font-size="37" font-weight="bold" textLength="22.6" lengthAdjust="spacingAndGlyphs">g</text>
<text x="1220" y="2014.8" font-size="37" font-weight="bold" textLength="22.6" lengthAdjust="spacingAndGlyphs">h</text>
<text x="634" y="676.4" font-size="28.6" textLength="674" lengthAdjust="spacingAndGlyphs">Systemic effect of transbronchial E-Galn implantation</text>
<g class="ch">
<path d="M55.4 770V945H357.4" fill="none" stroke="#231f20" stroke-width="2.1"/>
<path d="M47.4 901.25H55.4M47.4 857.5H55.4M47.4 813.75H55.4M47.4 770H55.4M80.4 945V953.5M130.4 945V953.5M180.4 945V953.5M230.4 945V953.5M280.4 945V953.5M330.4 945V953.5" fill="none" stroke="#231f20" stroke-width="2.1"/>
<text x="39.9" y="953.5" text-anchor="end" font-size="24">0</text>
<text x="39.9" y="909.75" text-anchor="end" font-size="24">20</text>
<text x="39.9" y="866" text-anchor="end" font-size="24">40</text>
<text x="39.9" y="822.25" text-anchor="end" font-size="24">60</text>
<text x="39.9" y="778.5" text-anchor="end" font-size="24">80</text>
<text x="80.4" y="974.6" text-anchor="middle" font-size="24">0d</text>
<text x="80.4" y="999" text-anchor="middle" font-size="22.5" textLength="41" lengthAdjust="spacingAndGlyphs">(n=8)</text>
<text x="130.4" y="974.6" text-anchor="middle" font-size="24">1w</text>
<text x="130.4" y="999" text-anchor="middle" font-size="22.5" textLength="41" lengthAdjust="spacingAndGlyphs">(n=8)</text>
<text x="180.4" y="974.6" text-anchor="middle" font-size="24">2w</text>
<text x="180.4" y="999" text-anchor="middle" font-size="22.5" textLength="41" lengthAdjust="spacingAndGlyphs">(n=8)</text>
<text x="230.4" y="974.6" text-anchor="middle" font-size="24">4w</text>
<text x="230.4" y="999" text-anchor="middle" font-size="22.5" textLength="41" lengthAdjust="spacingAndGlyphs">(n=8)</text>
<text x="280.4" y="974.6" text-anchor="middle" font-size="24">8w</text>
<text x="280.4" y="999" text-anchor="middle" font-size="22.5" textLength="41" lengthAdjust="spacingAndGlyphs">(n=6)</text>
<text x="330.4" y="974.6" text-anchor="middle" font-size="24">12w</text>
<text x="330.4" y="999" text-anchor="middle" font-size="22.5" textLength="41" lengthAdjust="spacingAndGlyphs">(n=6)</text>
<text x="206.4" y="763.3" text-anchor="middle" font-size="28.6">AST (IU/L)</text>
<path d="M80.4 835.62V918.31M76.2 835.62h8.4M76.2 918.31h8.4M76.2 877.41h8.4M130.4 862.31V894.03M126.2 862.31h8.4M126.2 894.03h8.4M126.2 878.5h8.4M180.4 856.62V897.53M176.2 856.62h8.4M176.2 897.53h8.4M176.2 876.09h8.4M230.4 876.53V899.94M226.2 876.53h8.4M226.2 899.94h8.4M226.2 887.47h8.4M280.4 840.44V900.81M276.2 840.44h8.4M276.2 900.81h8.4M276.2 870.62h8.4M330.4 868V896.44M326.2 868h8.4M326.2 896.44h8.4M326.2 882.22h8.4" fill="none" stroke="#231f20" stroke-width="2.3"/>
<g fill="#b3b3b3"><circle cx="80.4" cy="776.56" r="2.9"/><circle cx="71.83" cy="892.5" r="2.9"/><circle cx="80.4" cy="880.91" r="2.9"/><circle cx="87.07" cy="881.56" r="2.9"/><circle cx="89.92" cy="892.5" r="2.9"/><circle cx="80.4" cy="892.5" r="2.9"/><circle cx="87.07" cy="901.25" r="2.9"/><circle cx="80.4" cy="903.44" r="2.9"/><circle cx="130.4" cy="853.12" r="2.9"/><circle cx="138.97" cy="855.31" r="2.9"/><circle cx="130.4" cy="875" r="2.9"/><circle cx="123.26" cy="885.94" r="2.9"/><circle cx="130.4" cy="885.94" r="2.9"/><circle cx="138.97" cy="885.94" r="2.9"/><circle cx="130.4" cy="894.69" r="2.9"/><circle cx="138.97" cy="894.69" r="2.9"/><circle cx="180.4" cy="853.12" r="2.9"/><circle cx="189.92" cy="857.5" r="2.9"/><circle cx="180.4" cy="866.25" r="2.9"/><circle cx="189.92" cy="877.19" r="2.9"/><circle cx="180.4" cy="888.12" r="2.9"/><circle cx="173.26" cy="892.5" r="2.9"/><circle cx="180.4" cy="912.19" r="2.9"/><circle cx="180.4" cy="857.5" r="2.9"/><circle cx="230.4" cy="872.81" r="2.9"/><circle cx="222.3" cy="881.56" r="2.9"/><circle cx="238.97" cy="877.19" r="2.9"/><circle cx="222.3" cy="892.5" r="2.9"/><circle cx="230.4" cy="885.94" r="2.9"/><circle cx="230.4" cy="901.25" r="2.9"/><circle cx="238.97" cy="903.44" r="2.9"/><circle cx="230.4" cy="899.06" r="2.9"/><circle cx="280.4" cy="831.25" r="2.9"/><circle cx="280.4" cy="846.56" r="2.9"/><circle cx="280.4" cy="859.69" r="2.9"/><circle cx="278.02" cy="877.19" r="2.9"/><circle cx="285.16" cy="888.12" r="2.9"/><circle cx="280.4" cy="914.38" r="2.9"/><circle cx="322.78" cy="872.81" r="2.9"/><circle cx="330.4" cy="868.44" r="2.9"/><circle cx="337.54" cy="870.62" r="2.9"/><circle cx="322.78" cy="892.5" r="2.9"/><circle cx="337.54" cy="892.5" r="2.9"/><circle cx="330.4" cy="899.06" r="2.9"/></g>
</g>
<g class="ch">
<path d="M451.4 770V945H753.4" fill="none" stroke="#231f20" stroke-width="2.1"/>
<path d="M443.4 901.25H451.4M443.4 857.5H451.4M443.4 813.75H451.4M443.4 770H451.4M476.4 945V953.5M526.4 945V953.5M576.4 945V953.5M626.4 945V953.5M676.4 945V953.5M726.4 945V953.5" fill="none" stroke="#231f20" stroke-width="2.1"/>
<text x="435.9" y="953.5" text-anchor="end" font-size="24">0</text>
<text x="435.9" y="909.75" text-anchor="end" font-size="24">20</text>
<text x="435.9" y="866" text-anchor="end" font-size="24">40</text>
<text x="435.9" y="822.25" text-anchor="end" font-size="24">60</text>
<text x="435.9" y="778.5" text-anchor="end" font-size="24">80</text>
<text x="476.4" y="974.6" text-anchor="middle" font-size="24">0d</text>
<text x="476.4" y="999" text-anchor="middle" font-size="22.5" textLength="41" lengthAdjust="spacingAndGlyphs">(n=8)</text>
<text x="526.4" y="974.6" text-anchor="middle" font-size="24">1w</text>
<text x="526.4" y="999" text-anchor="middle" font-size="22.5" textLength="41" lengthAdjust="spacingAndGlyphs">(n=8)</text>
<text x="576.4" y="974.6" text-anchor="middle" font-size="24">2w</text>
<text x="576.4" y="999" text-anchor="middle" font-size="22.5" textLength="41" lengthAdjust="spacingAndGlyphs">(n=8)</text>
<text x="626.4" y="974.6" text-anchor="middle" font-size="24">4w</text>
<text x="626.4" y="999" text-anchor="middle" font-size="22.5" textLength="41" lengthAdjust="spacingAndGlyphs">(n=8)</text>
<text x="676.4" y="974.6" text-anchor="middle" font-size="24">8w</text>
<text x="676.4" y="999" text-anchor="middle" font-size="22.5" textLength="41" lengthAdjust="spacingAndGlyphs">(n=6)</text>
<text x="726.4" y="974.6" text-anchor="middle" font-size="24">12w</text>
<text x="726.4" y="999" text-anchor="middle" font-size="22.5" textLength="41" lengthAdjust="spacingAndGlyphs">(n=6)</text>
<text x="602.4" y="763.3" text-anchor="middle" font-size="28.6">ALT (IU/L)</text>
<path d="M476.4 861.22V883.09M472.2 861.22h8.4M472.2 883.09h8.4M472.2 872.16h8.4M526.4 834.09V900.81M522.2 834.09h8.4M522.2 900.81h8.4M522.2 866.47h8.4M576.4 843.28V885.06M572.2 843.28h8.4M572.2 885.06h8.4M572.2 863.62h8.4M626.4 865.59V886.59M622.2 865.59h8.4M622.2 886.59h8.4M622.2 875.66h8.4M676.4 838.91V896.88M672.2 838.91h8.4M672.2 896.88h8.4M672.2 867.56h8.4M726.4 825.12V880.25M722.2 825.12h8.4M722.2 880.25h8.4M722.2 852.69h8.4" fill="none" stroke="#231f20" stroke-width="2.3"/>
<g fill="#b3b3b3"><circle cx="476.4" cy="857.5" r="2.9"/><circle cx="467.83" cy="861.88" r="2.9"/><circle cx="483.54" cy="861.88" r="2.9"/><circle cx="476.4" cy="872.81" r="2.9"/><circle cx="467.83" cy="877.19" r="2.9"/><circle cx="483.54" cy="872.81" r="2.9"/><circle cx="476.4" cy="877.19" r="2.9"/><circle cx="476.4" cy="890.31" r="2.9"/><circle cx="526.4" cy="789.69" r="2.9"/><circle cx="517.83" cy="870.62" r="2.9"/><circle cx="526.4" cy="868.44" r="2.9"/><circle cx="533.54" cy="875" r="2.9"/><circle cx="517.83" cy="877.19" r="2.9"/><circle cx="526.4" cy="881.56" r="2.9"/><circle cx="526.4" cy="901.25" r="2.9"/><circle cx="524.97" cy="901.25" r="2.9"/><circle cx="576.4" cy="833.44" r="2.9"/><circle cx="576.4" cy="838.91" r="2.9"/><circle cx="576.4" cy="853.12" r="2.9"/><circle cx="572.59" cy="864.06" r="2.9"/><circle cx="583.54" cy="864.06" r="2.9"/><circle cx="576.4" cy="872.81" r="2.9"/><circle cx="576.4" cy="883.75" r="2.9"/><circle cx="576.4" cy="899.06" r="2.9"/><circle cx="626.4" cy="861.88" r="2.9"/><circle cx="632.11" cy="864.72" r="2.9"/><circle cx="617.83" cy="881.56" r="2.9"/><circle cx="626.4" cy="875" r="2.9"/><circle cx="634.5" cy="872.81" r="2.9"/><circle cx="626.4" cy="884.62" r="2.9"/><circle cx="626.4" cy="892.5" r="2.9"/><circle cx="620.21" cy="881.56" r="2.9"/><circle cx="676.4" cy="836.5" r="2.9"/><circle cx="681.16" cy="842.19" r="2.9"/><circle cx="676.4" cy="861.88" r="2.9"/><circle cx="676.4" cy="877.19" r="2.9"/><circle cx="676.4" cy="916.56" r="2.9"/><circle cx="671.64" cy="877.19" r="2.9"/><circle cx="726.4" cy="809.38" r="2.9"/><circle cx="726.4" cy="831.25" r="2.9"/><circle cx="726.4" cy="842.84" r="2.9"/><circle cx="719.26" cy="872.16" r="2.9"/><circle cx="733.54" cy="872.16" r="2.9"/><circle cx="726.4" cy="875" r="2.9"/></g>
</g>
<g class="ch">
<path d="M847.6 770V945H1149.6" fill="none" stroke="#231f20" stroke-width="2.1"/>
<path d="M839.6 901.25H847.6M839.6 857.5H847.6M839.6 813.75H847.6M839.6 770H847.6M872.6 945V953.5M922.6 945V953.5M972.6 945V953.5M1022.6 945V953.5M1072.6 945V953.5M1122.6 945V953.5" fill="none" stroke="#231f20" stroke-width="2.1"/>
<text x="832.1" y="953.5" text-anchor="end" font-size="24">0</text>
<text x="832.1" y="909.75" text-anchor="end" font-size="24">400</text>
<text x="832.1" y="866" text-anchor="end" font-size="24">800</text>
<text x="832.1" y="822.25" text-anchor="end" font-size="24">1200</text>
<text x="832.1" y="778.5" text-anchor="end" font-size="24">1600</text>
<text x="872.6" y="974.6" text-anchor="middle" font-size="24">0d</text>
<text x="872.6" y="999" text-anchor="middle" font-size="22.5" textLength="41" lengthAdjust="spacingAndGlyphs">(n=8)</text>
<text x="922.6" y="974.6" text-anchor="middle" font-size="24">1w</text>
<text x="922.6" y="999" text-anchor="middle" font-size="22.5" textLength="41" lengthAdjust="spacingAndGlyphs">(n=8)</text>
<text x="972.6" y="974.6" text-anchor="middle" font-size="24">2w</text>
<text x="972.6" y="999" text-anchor="middle" font-size="22.5" textLength="41" lengthAdjust="spacingAndGlyphs">(n=8)</text>
<text x="1022.6" y="974.6" text-anchor="middle" font-size="24">4w</text>
<text x="1022.6" y="999" text-anchor="middle" font-size="22.5" textLength="41" lengthAdjust="spacingAndGlyphs">(n=8)</text>
<text x="1072.6" y="974.6" text-anchor="middle" font-size="24">8w</text>
<text x="1072.6" y="999" text-anchor="middle" font-size="22.5" textLength="41" lengthAdjust="spacingAndGlyphs">(n=6)</text>
<text x="1122.6" y="974.6" text-anchor="middle" font-size="24">12w</text>
<text x="1122.6" y="999" text-anchor="middle" font-size="22.5" textLength="41" lengthAdjust="spacingAndGlyphs">(n=6)</text>
<text x="998.6" y="763.3" text-anchor="middle" font-size="28.6">LDH (U/L)</text>
<path d="M872.6 842.3V918.86M868.4 842.3h8.4M868.4 918.86h8.4M868.4 880.8h8.4M922.6 877.95V901.25M918.4 877.95h8.4M918.4 901.25h8.4M918.4 888.89h8.4M972.6 867.02V904.53M968.4 867.02h8.4M968.4 904.53h8.4M968.4 885.61h8.4M1022.6 890.31V905.08M1018.4 890.31h8.4M1018.4 905.08h8.4M1018.4 897.42h8.4M1072.6 871.72V912.62M1068.4 871.72h8.4M1068.4 912.62h8.4M1068.4 891.73h8.4M1122.6 895.02V905.52M1118.4 895.02h8.4M1118.4 905.52h8.4M1118.4 900.81h8.4" fill="none" stroke="#231f20" stroke-width="2.3"/>
<g fill="#b3b3b3"><circle cx="872.6" cy="787.17" r="2.9"/><circle cx="863.55" cy="891.73" r="2.9"/><circle cx="872.6" cy="887.03" r="2.9"/><circle cx="881.17" cy="888.89" r="2.9"/><circle cx="866.89" cy="897.42" r="2.9"/><circle cx="872.6" cy="898.84" r="2.9"/><circle cx="881.17" cy="896" r="2.9"/><circle cx="872.6" cy="892.5" r="2.9"/><circle cx="922.6" cy="863.73" r="2.9"/><circle cx="914.5" cy="887.91" r="2.9"/><circle cx="922.6" cy="885.61" r="2.9"/><circle cx="928.79" cy="887.03" r="2.9"/><circle cx="914.5" cy="900.81" r="2.9"/><circle cx="922.6" cy="895.02" r="2.9"/><circle cx="928.79" cy="896" r="2.9"/><circle cx="922.6" cy="899.06" r="2.9"/><circle cx="972.6" cy="842.73" r="2.9"/><circle cx="965.46" cy="887.03" r="2.9"/><circle cx="972.6" cy="885.61" r="2.9"/><circle cx="979.74" cy="887.03" r="2.9"/><circle cx="967.84" cy="891.3" r="2.9"/><circle cx="972.6" cy="904.53" r="2.9"/><circle cx="977.36" cy="888.89" r="2.9"/><circle cx="1015.93" cy="888.89" r="2.9"/><circle cx="1022.6" cy="888.89" r="2.9"/><circle cx="1031.17" cy="888.89" r="2.9"/><circle cx="1015.93" cy="899.83" r="2.9"/><circle cx="1022.6" cy="897.42" r="2.9"/><circle cx="1031.17" cy="902.23" r="2.9"/><circle cx="1022.6" cy="908.36" r="2.9"/><circle cx="1015.93" cy="895.78" r="2.9"/><circle cx="1072.6" cy="854.66" r="2.9"/><circle cx="1064.5" cy="897.42" r="2.9"/><circle cx="1072.6" cy="890.31" r="2.9"/><circle cx="1078.79" cy="893.16" r="2.9"/><circle cx="1072.6" cy="913.61" r="2.9"/><circle cx="1066.89" cy="890.31" r="2.9"/><circle cx="1122.6" cy="891.73" r="2.9"/><circle cx="1115.93" cy="902.67" r="2.9"/><circle cx="1122.6" cy="900.81" r="2.9"/><circle cx="1130.22" cy="897.42" r="2.9"/><circle cx="1122.6" cy="905.52" r="2.9"/><circle cx="1130.22" cy="904.53" r="2.9"/></g>
</g>
<g class="ch">
<path d="M1243.3 761.9V935.7H1545.3" fill="none" stroke="#231f20" stroke-width="2.1"/>
<path d="M1235.3 877.77H1243.3M1235.3 819.83H1243.3M1235.3 761.9H1243.3M1268.3 935.7V944.2M1318.3 935.7V944.2M1368.3 935.7V944.2M1418.3 935.7V944.2M1468.3 935.7V944.2M1518.3 935.7V944.2" fill="none" stroke="#231f20" stroke-width="2.1"/>
<text x="1227.8" y="944.2" text-anchor="end" font-size="24">0</text>
<text x="1227.8" y="886.27" text-anchor="end" font-size="24">1</text>
<text x="1227.8" y="828.33" text-anchor="end" font-size="24">2</text>
<text x="1227.8" y="770.4" text-anchor="end" font-size="24">3</text>
<text x="1268.3" y="965.3" text-anchor="middle" font-size="24">0d</text>
<text x="1268.3" y="989.7" text-anchor="middle" font-size="22.5" textLength="41" lengthAdjust="spacingAndGlyphs">(n=8)</text>
<text x="1318.3" y="965.3" text-anchor="middle" font-size="24">1w</text>
<text x="1318.3" y="989.7" text-anchor="middle" font-size="22.5" textLength="41" lengthAdjust="spacingAndGlyphs">(n=8)</text>
<text x="1368.3" y="965.3" text-anchor="middle" font-size="24">2w</text>
<text x="1368.3" y="989.7" text-anchor="middle" font-size="22.5" textLength="41" lengthAdjust="spacingAndGlyphs">(n=8)</text>
<text x="1418.3" y="965.3" text-anchor="middle" font-size="24">4w</text>
<text x="1418.3" y="989.7" text-anchor="middle" font-size="22.5" textLength="41" lengthAdjust="spacingAndGlyphs">(n=8)</text>
<text x="1468.3" y="965.3" text-anchor="middle" font-size="24">8w</text>
<text x="1468.3" y="989.7" text-anchor="middle" font-size="22.5" textLength="41" lengthAdjust="spacingAndGlyphs">(n=6)</text>
<text x="1518.3" y="965.3" text-anchor="middle" font-size="24">12w</text>
<text x="1518.3" y="989.7" text-anchor="middle" font-size="22.5" textLength="41" lengthAdjust="spacingAndGlyphs">(n=6)</text>
<text x="1394.3" y="753.3" text-anchor="middle" font-size="28.6">Creatinine (mg/dL)</text>
<path d="M1268.3 836.05V883.56M1264.1 836.05h8.4M1264.1 883.56h8.4M1264.1 859.81h8.4M1318.3 848.22V883.56M1314.1 848.22h8.4M1314.1 883.56h8.4M1314.1 865.6h8.4M1368.3 843.01V877.77M1364.1 843.01h8.4M1364.1 877.77h8.4M1364.1 859.81h8.4M1418.3 824.47V859.81M1414.1 824.47h8.4M1414.1 859.81h8.4M1414.1 842.43h8.4M1468.3 795.5V854.01M1464.1 795.5h8.4M1464.1 854.01h8.4M1464.1 824.47h8.4M1518.3 796.08V865.6M1514.1 796.08h8.4M1514.1 865.6h8.4M1514.1 830.26h8.4" fill="none" stroke="#231f20" stroke-width="2.3"/>
<g fill="#b3b3b3"><circle cx="1268.3" cy="806.51" r="2.9"/><circle cx="1268.3" cy="860.97" r="2.9"/><circle cx="1261.16" cy="875.45" r="2.9"/><circle cx="1275.44" cy="864.44" r="2.9"/><circle cx="1268.3" cy="870.24" r="2.9"/><circle cx="1276.87" cy="877.77" r="2.9"/><circle cx="1268.3" cy="880.66" r="2.9"/><circle cx="1270.2" cy="873.13" r="2.9"/><circle cx="1318.3" cy="822.15" r="2.9"/><circle cx="1318.3" cy="856.91" r="2.9"/><circle cx="1312.11" cy="875.45" r="2.9"/><circle cx="1326.4" cy="864.44" r="2.9"/><circle cx="1318.3" cy="866.76" r="2.9"/><circle cx="1326.4" cy="879.5" r="2.9"/><circle cx="1318.3" cy="880.08" r="2.9"/><circle cx="1312.11" cy="864.44" r="2.9"/><circle cx="1368.3" cy="827.36" r="2.9"/><circle cx="1368.3" cy="847.64" r="2.9"/><circle cx="1362.11" cy="859.23" r="2.9"/><circle cx="1376.4" cy="862.12" r="2.9"/><circle cx="1359.73" cy="867.34" r="2.9"/><circle cx="1368.3" cy="866.76" r="2.9"/><circle cx="1368.3" cy="875.45" r="2.9"/><circle cx="1368.3" cy="854.59" r="2.9"/><circle cx="1418.3" cy="814.04" r="2.9"/><circle cx="1418.3" cy="830.26" r="2.9"/><circle cx="1426.4" cy="833.16" r="2.9"/><circle cx="1418.3" cy="843.01" r="2.9"/><circle cx="1418.3" cy="854.01" r="2.9"/><circle cx="1412.11" cy="866.18" r="2.9"/><circle cx="1425.44" cy="866.18" r="2.9"/><circle cx="1418.3" cy="837.21" r="2.9"/><circle cx="1468.3" cy="790.87" r="2.9"/><circle cx="1468.3" cy="803.03" r="2.9"/><circle cx="1476.4" cy="828.52" r="2.9"/><circle cx="1468.3" cy="828.52" r="2.9"/><circle cx="1468.3" cy="877.77" r="2.9"/><circle cx="1468.3" cy="814.04" r="2.9"/><circle cx="1518.3" cy="787.97" r="2.9"/><circle cx="1518.3" cy="811.72" r="2.9"/><circle cx="1518.3" cy="822.73" r="2.9"/><circle cx="1518.3" cy="856.91" r="2.9"/><circle cx="1518.3" cy="860.97" r="2.9"/><circle cx="1518.3" cy="876.03" r="2.9"/></g>
</g>
<g class="ch">
<path d="M1640.2 761.2V935.7H1942.2" fill="none" stroke="#231f20" stroke-width="2.1"/>
<path d="M1632.2 877.53H1640.2M1632.2 819.37H1640.2M1632.2 761.2H1640.2M1665.2 935.7V944.2M1715.2 935.7V944.2M1765.2 935.7V944.2M1815.2 935.7V944.2M1865.2 935.7V944.2M1915.2 935.7V944.2" fill="none" stroke="#231f20" stroke-width="2.1"/>
<text x="1624.7" y="944.2" text-anchor="end" font-size="24">0</text>
<text x="1624.7" y="886.03" text-anchor="end" font-size="24">4</text>
<text x="1624.7" y="827.87" text-anchor="end" font-size="24">8</text>
<text x="1624.7" y="769.7" text-anchor="end" font-size="24">12</text>
<text x="1665.2" y="965.3" text-anchor="middle" font-size="24">0d</text>
<text x="1665.2" y="989.7" text-anchor="middle" font-size="22.5" textLength="41" lengthAdjust="spacingAndGlyphs">(n=8)</text>
<text x="1715.2" y="965.3" text-anchor="middle" font-size="24">1w</text>
<text x="1715.2" y="989.7" text-anchor="middle" font-size="22.5" textLength="41" lengthAdjust="spacingAndGlyphs">(n=8)</text>
<text x="1765.2" y="965.3" text-anchor="middle" font-size="24">2w</text>
<text x="1765.2" y="989.7" text-anchor="middle" font-size="22.5" textLength="41" lengthAdjust="spacingAndGlyphs">(n=8)</text>
<text x="1815.2" y="965.3" text-anchor="middle" font-size="24">4w</text>
<text x="1815.2" y="989.7" text-anchor="middle" font-size="22.5" textLength="41" lengthAdjust="spacingAndGlyphs">(n=8)</text>
<text x="1865.2" y="965.3" text-anchor="middle" font-size="24">8w</text>
<text x="1865.2" y="989.7" text-anchor="middle" font-size="22.5" textLength="41" lengthAdjust="spacingAndGlyphs">(n=6)</text>
<text x="1915.2" y="965.3" text-anchor="middle" font-size="24">12w</text>
<text x="1915.2" y="989.7" text-anchor="middle" font-size="22.5" textLength="41" lengthAdjust="spacingAndGlyphs">(n=6)</text>
<text x="1791.2" y="752.4" text-anchor="middle" font-size="28.6">Ca (mg/dL)</text>
<path d="M1665.2 770.65V800.03M1661 770.65h8.4M1661 800.03h8.4M1661 785.19h8.4M1715.2 777.92V789.85M1711 777.92h8.4M1711 789.85h8.4M1711 783.88h8.4M1765.2 777.92V789.85M1761 777.92h8.4M1761 789.85h8.4M1761 783.3h8.4M1815.2 776.76V791.16M1811 776.76h8.4M1811 791.16h8.4M1811 783.88h8.4M1865.2 787.38V791.74M1861 787.38h8.4M1861 791.74h8.4M1861 789.85h8.4M1915.2 789.85V801.63M1911 789.85h8.4M1911 801.63h8.4M1911 795.66h8.4" fill="none" stroke="#231f20" stroke-width="2.3"/>
<g fill="#b3b3b3"><circle cx="1665.2" cy="763.82" r="2.9"/><circle cx="1665.2" cy="777.2" r="2.9"/><circle cx="1656.15" cy="785.19" r="2.9"/><circle cx="1671.63" cy="784.03" r="2.9"/><circle cx="1678.06" cy="787.38" r="2.9"/><circle cx="1665.2" cy="790.28" r="2.9"/><circle cx="1665.2" cy="813.84" r="2.9"/><circle cx="1665.2" cy="781.56" r="2.9"/><circle cx="1715.2" cy="773.85" r="2.9"/><circle cx="1725.2" cy="779.52" r="2.9"/><circle cx="1706.63" cy="787.38" r="2.9"/><circle cx="1715.2" cy="784.03" r="2.9"/><circle cx="1721.63" cy="784.03" r="2.9"/><circle cx="1715.2" cy="792.9" r="2.9"/><circle cx="1724.25" cy="791.74" r="2.9"/><circle cx="1715.2" cy="778.65" r="2.9"/><circle cx="1765.2" cy="773.85" r="2.9"/><circle cx="1756.87" cy="779.81" r="2.9"/><circle cx="1772.34" cy="779.81" r="2.9"/><circle cx="1774.72" cy="783.01" r="2.9"/><circle cx="1756.87" cy="787.38" r="2.9"/><circle cx="1770.44" cy="787.38" r="2.9"/><circle cx="1765.2" cy="792.9" r="2.9"/><circle cx="1765.2" cy="783.01" r="2.9"/><circle cx="1815.2" cy="775.45" r="2.9"/><circle cx="1825.2" cy="775.45" r="2.9"/><circle cx="1807.34" cy="785.19" r="2.9"/><circle cx="1824.01" cy="784.03" r="2.9"/><circle cx="1815.2" cy="783.3" r="2.9"/><circle cx="1823.53" cy="791.74" r="2.9"/><circle cx="1815.2" cy="795.66" r="2.9"/><circle cx="1815.2" cy="787.38" r="2.9"/><circle cx="1856.15" cy="787.38" r="2.9"/><circle cx="1865.2" cy="785.19" r="2.9"/><circle cx="1872.82" cy="787.38" r="2.9"/><circle cx="1877.1" cy="792.9" r="2.9"/><circle cx="1856.15" cy="797.55" r="2.9"/><circle cx="1865.2" cy="793.19" r="2.9"/><circle cx="1906.87" cy="792.9" r="2.9"/><circle cx="1915.2" cy="790.43" r="2.9"/><circle cx="1922.34" cy="792.9" r="2.9"/><circle cx="1928.77" cy="795.66" r="2.9"/><circle cx="1915.2" cy="795.66" r="2.9"/><circle cx="1915.2" cy="805.99" r="2.9"/></g>
</g>
<g class="ch">
<path d="M55.7 1064.8V1240H357.7" fill="none" stroke="#231f20" stroke-width="2.1"/>
<path d="M47.7 1196.2H55.7M47.7 1152.4H55.7M47.7 1108.6H55.7M47.7 1064.8H55.7M80.7 1240V1248.5M130.7 1240V1248.5M180.7 1240V1248.5M230.7 1240V1248.5M280.7 1240V1248.5M330.7 1240V1248.5" fill="none" stroke="#231f20" stroke-width="2.1"/>
<text x="40.2" y="1248.5" text-anchor="end" font-size="24">0</text>
<text x="40.2" y="1204.7" text-anchor="end" font-size="24">40</text>
<text x="40.2" y="1160.9" text-anchor="end" font-size="24">80</text>
<text x="40.2" y="1117.1" text-anchor="end" font-size="24">120</text>
<text x="40.2" y="1073.3" text-anchor="end" font-size="24">160</text>
<text x="80.7" y="1269.6" text-anchor="middle" font-size="24">0d</text>
<text x="80.7" y="1294" text-anchor="middle" font-size="22.5" textLength="41" lengthAdjust="spacingAndGlyphs">(n=8)</text>
<text x="130.7" y="1269.6" text-anchor="middle" font-size="24">1w</text>
<text x="130.7" y="1294" text-anchor="middle" font-size="22.5" textLength="41" lengthAdjust="spacingAndGlyphs">(n=8)</text>
<text x="180.7" y="1269.6" text-anchor="middle" font-size="24">2w</text>
<text x="180.7" y="1294" text-anchor="middle" font-size="22.5" textLength="41" lengthAdjust="spacingAndGlyphs">(n=8)</text>
<text x="230.7" y="1269.6" text-anchor="middle" font-size="24">4w</text>
<text x="230.7" y="1294" text-anchor="middle" font-size="22.5" textLength="41" lengthAdjust="spacingAndGlyphs">(n=8)</text>
<text x="280.7" y="1269.6" text-anchor="middle" font-size="24">8w</text>
<text x="280.7" y="1294" text-anchor="middle" font-size="22.5" textLength="41" lengthAdjust="spacingAndGlyphs">(n=6)</text>
<text x="330.7" y="1269.6" text-anchor="middle" font-size="24">12w</text>
<text x="330.7" y="1294" text-anchor="middle" font-size="22.5" textLength="41" lengthAdjust="spacingAndGlyphs">(n=6)</text>
<text x="206.7" y="1057.6" text-anchor="middle" font-size="28.6">Na (mmol/L)</text>
<path d="M80.7 1080.46V1086.26M76.5 1080.46h8.4M76.5 1086.26h8.4M76.5 1083.41h8.4M130.7 1082.87V1087.8M126.5 1082.87h8.4M126.5 1087.8h8.4M126.5 1085.28h8.4M180.7 1082.87V1087.8M176.5 1082.87h8.4M176.5 1087.8h8.4M176.5 1085.28h8.4M230.7 1080.46V1093.38M226.5 1080.46h8.4M226.5 1093.38h8.4M226.5 1087.14h8.4M280.7 1084.84V1091.08M276.5 1084.84h8.4M276.5 1091.08h8.4M276.5 1088.12h8.4M330.7 1079.03V1097.21M326.5 1079.03h8.4M326.5 1097.21h8.4M326.5 1088.12h8.4" fill="none" stroke="#231f20" stroke-width="2.3"/>
<g fill="#b3b3b3"><circle cx="61.65" cy="1082.87" r="2.9"/><circle cx="69.75" cy="1084.51" r="2.9"/><circle cx="80.7" cy="1079.58" r="2.9"/><circle cx="80.7" cy="1084.51" r="2.9"/><circle cx="88.8" cy="1082.87" r="2.9"/><circle cx="95.94" cy="1084.51" r="2.9"/><circle cx="103.08" cy="1085.61" r="2.9"/><circle cx="74.51" cy="1085.61" r="2.9"/><circle cx="117.37" cy="1084.51" r="2.9"/><circle cx="125.46" cy="1086.15" r="2.9"/><circle cx="130.7" cy="1080.57" r="2.9"/><circle cx="130.7" cy="1087.8" r="2.9"/><circle cx="138.8" cy="1084.51" r="2.9"/><circle cx="145.94" cy="1086.7" r="2.9"/><circle cx="153.08" cy="1086.7" r="2.9"/><circle cx="121.18" cy="1086.7" r="2.9"/><circle cx="164.99" cy="1082.87" r="2.9"/><circle cx="173.08" cy="1084.51" r="2.9"/><circle cx="180.7" cy="1082.32" r="2.9"/><circle cx="180.7" cy="1091.08" r="2.9"/><circle cx="188.8" cy="1082.87" r="2.9"/><circle cx="198.32" cy="1084.51" r="2.9"/><circle cx="169.75" cy="1087.8" r="2.9"/><circle cx="217.37" cy="1087.8" r="2.9"/><circle cx="225.46" cy="1084.84" r="2.9"/><circle cx="230.7" cy="1082.43" r="2.9"/><circle cx="238.8" cy="1085.71" r="2.9"/><circle cx="248.32" cy="1083.85" r="2.9"/><circle cx="230.7" cy="1099.07" r="2.9"/><circle cx="230.7" cy="1089.98" r="2.9"/><circle cx="273.08" cy="1087.8" r="2.9"/><circle cx="280.7" cy="1086.26" r="2.9"/><circle cx="287.37" cy="1087.8" r="2.9"/><circle cx="273.08" cy="1092.17" r="2.9"/><circle cx="280.7" cy="1095.46" r="2.9"/><circle cx="287.37" cy="1096.66" r="2.9"/><circle cx="317.84" cy="1086.26" r="2.9"/><circle cx="324.99" cy="1083.85" r="2.9"/><circle cx="333.08" cy="1083.41" r="2.9"/><circle cx="340.22" cy="1083.85" r="2.9"/><circle cx="330.7" cy="1087.14" r="2.9"/><circle cx="330.7" cy="1106.74" r="2.9"/></g>
</g>
<g class="ch">
<path d="M451.4 1064.8V1240H753.4" fill="none" stroke="#231f20" stroke-width="2.1"/>
<path d="M443.4 1204.96H451.4M443.4 1169.92H451.4M443.4 1134.88H451.4M443.4 1099.84H451.4M443.4 1064.8H451.4M476.4 1240V1248.5M526.4 1240V1248.5M576.4 1240V1248.5M626.4 1240V1248.5M676.4 1240V1248.5M726.4 1240V1248.5" fill="none" stroke="#231f20" stroke-width="2.1"/>
<text x="435.9" y="1248.5" text-anchor="end" font-size="24">0</text>
<text x="435.9" y="1213.46" text-anchor="end" font-size="24">1</text>
<text x="435.9" y="1178.42" text-anchor="end" font-size="24">2</text>
<text x="435.9" y="1143.38" text-anchor="end" font-size="24">3</text>
<text x="435.9" y="1108.34" text-anchor="end" font-size="24">4</text>
<text x="435.9" y="1073.3" text-anchor="end" font-size="24">5</text>
<text x="476.4" y="1269.6" text-anchor="middle" font-size="24">0d</text>
<text x="476.4" y="1294" text-anchor="middle" font-size="22.5" textLength="41" lengthAdjust="spacingAndGlyphs">(n=8)</text>
<text x="526.4" y="1269.6" text-anchor="middle" font-size="24">1w</text>
<text x="526.4" y="1294" text-anchor="middle" font-size="22.5" textLength="41" lengthAdjust="spacingAndGlyphs">(n=8)</text>
<text x="576.4" y="1269.6" text-anchor="middle" font-size="24">2w</text>
<text x="576.4" y="1294" text-anchor="middle" font-size="22.5" textLength="41" lengthAdjust="spacingAndGlyphs">(n=8)</text>
<text x="626.4" y="1269.6" text-anchor="middle" font-size="24">4w</text>
<text x="626.4" y="1294" text-anchor="middle" font-size="22.5" textLength="41" lengthAdjust="spacingAndGlyphs">(n=8)</text>
<text x="676.4" y="1269.6" text-anchor="middle" font-size="24">8w</text>
<text x="676.4" y="1294" text-anchor="middle" font-size="22.5" textLength="41" lengthAdjust="spacingAndGlyphs">(n=6)</text>
<text x="726.4" y="1269.6" text-anchor="middle" font-size="24">12w</text>
<text x="726.4" y="1294" text-anchor="middle" font-size="22.5" textLength="41" lengthAdjust="spacingAndGlyphs">(n=6)</text>
<text x="602.4" y="1057.6" text-anchor="middle" font-size="32.5">K<tspan font-size="26" dy="-10">+</tspan><tspan dy="10"> (mmol/L)</tspan></text>
<path d="M476.4 1085.12V1128.22M472.2 1085.12h8.4M472.2 1128.22h8.4M472.2 1106.85h8.4M526.4 1088.63V1118.06M522.2 1088.63h8.4M522.2 1118.06h8.4M522.2 1102.99h8.4M576.4 1095.64V1117.36M572.2 1095.64h8.4M572.2 1117.36h8.4M572.2 1106.85h8.4M626.4 1106.85V1112.45M622.2 1106.85h8.4M622.2 1112.45h8.4M622.2 1109.65h8.4M676.4 1102.99V1117.36M672.2 1102.99h8.4M672.2 1117.36h8.4M672.2 1110h8.4M726.4 1095.64V1123.32M722.2 1095.64h8.4M722.2 1123.32h8.4M722.2 1109.65h8.4" fill="none" stroke="#231f20" stroke-width="2.3"/>
<g fill="#b3b3b3"><circle cx="476.4" cy="1064.8" r="2.9"/><circle cx="476.4" cy="1099.14" r="2.9"/><circle cx="467.83" cy="1117.36" r="2.9"/><circle cx="476.4" cy="1112.45" r="2.9"/><circle cx="484.5" cy="1117.36" r="2.9"/><circle cx="476.4" cy="1122.97" r="2.9"/><circle cx="476.4" cy="1131.38" r="2.9"/><circle cx="472.59" cy="1118.76" r="2.9"/><circle cx="526.4" cy="1085.12" r="2.9"/><circle cx="517.83" cy="1088.63" r="2.9"/><circle cx="534.5" cy="1088.63" r="2.9"/><circle cx="526.4" cy="1100.54" r="2.9"/><circle cx="517.83" cy="1113.51" r="2.9"/><circle cx="526.4" cy="1113.51" r="2.9"/><circle cx="534.5" cy="1113.51" r="2.9"/><circle cx="526.4" cy="1118.06" r="2.9"/><circle cx="576.4" cy="1082.32" r="2.9"/><circle cx="576.4" cy="1105.1" r="2.9"/><circle cx="560.69" cy="1112.45" r="2.9"/><circle cx="568.78" cy="1111.05" r="2.9"/><circle cx="584.5" cy="1111.05" r="2.9"/><circle cx="594.02" cy="1113.51" r="2.9"/><circle cx="576.4" cy="1114.91" r="2.9"/><circle cx="576.4" cy="1117.36" r="2.9"/><circle cx="613.07" cy="1106.85" r="2.9"/><circle cx="620.21" cy="1107.9" r="2.9"/><circle cx="626.4" cy="1105.1" r="2.9"/><circle cx="634.5" cy="1107.9" r="2.9"/><circle cx="641.64" cy="1106.85" r="2.9"/><circle cx="617.83" cy="1117.36" r="2.9"/><circle cx="634.5" cy="1117.36" r="2.9"/><circle cx="626.4" cy="1112.45" r="2.9"/><circle cx="676.4" cy="1099.84" r="2.9"/><circle cx="665.45" cy="1110" r="2.9"/><circle cx="671.64" cy="1110" r="2.9"/><circle cx="681.16" cy="1110" r="2.9"/><circle cx="690.69" cy="1110" r="2.9"/><circle cx="676.4" cy="1117.36" r="2.9"/><circle cx="726.4" cy="1090.03" r="2.9"/><circle cx="717.83" cy="1110" r="2.9"/><circle cx="726.4" cy="1110" r="2.9"/><circle cx="734.5" cy="1110" r="2.9"/><circle cx="726.4" cy="1123.32" r="2.9"/><circle cx="726.4" cy="1131.38" r="2.9"/></g>
</g>
<g class="ch">
<path d="M847.6 1064.8V1240H1149.6" fill="none" stroke="#231f20" stroke-width="2.1"/>
<path d="M839.6 1196.2H847.6M839.6 1152.4H847.6M839.6 1108.6H847.6M839.6 1064.8H847.6M872.6 1240V1248.5M922.6 1240V1248.5M972.6 1240V1248.5M1022.6 1240V1248.5M1072.6 1240V1248.5M1122.6 1240V1248.5" fill="none" stroke="#231f20" stroke-width="2.1"/>
<text x="832.1" y="1248.5" text-anchor="end" font-size="24">0</text>
<text x="832.1" y="1204.7" text-anchor="end" font-size="24">10</text>
<text x="832.1" y="1160.9" text-anchor="end" font-size="24">20</text>
<text x="832.1" y="1117.1" text-anchor="end" font-size="24">30</text>
<text x="832.1" y="1073.3" text-anchor="end" font-size="24">40</text>
<text x="872.6" y="1269.6" text-anchor="middle" font-size="24">0d</text>
<text x="872.6" y="1294" text-anchor="middle" font-size="22.5" textLength="41" lengthAdjust="spacingAndGlyphs">(n=8)</text>
<text x="922.6" y="1269.6" text-anchor="middle" font-size="24">1w</text>
<text x="922.6" y="1294" text-anchor="middle" font-size="22.5" textLength="41" lengthAdjust="spacingAndGlyphs">(n=8)</text>
<text x="972.6" y="1269.6" text-anchor="middle" font-size="24">2w</text>
<text x="972.6" y="1294" text-anchor="middle" font-size="22.5" textLength="41" lengthAdjust="spacingAndGlyphs">(n=8)</text>
<text x="1022.6" y="1269.6" text-anchor="middle" font-size="24">4w</text>
<text x="1022.6" y="1294" text-anchor="middle" font-size="22.5" textLength="41" lengthAdjust="spacingAndGlyphs">(n=8)</text>
<text x="1072.6" y="1269.6" text-anchor="middle" font-size="24">8w</text>
<text x="1072.6" y="1294" text-anchor="middle" font-size="22.5" textLength="41" lengthAdjust="spacingAndGlyphs">(n=6)</text>
<text x="1122.6" y="1269.6" text-anchor="middle" font-size="24">12w</text>
<text x="1122.6" y="1294" text-anchor="middle" font-size="22.5" textLength="41" lengthAdjust="spacingAndGlyphs">(n=6)</text>
<text x="998.6" y="1057.6" text-anchor="middle" font-size="28.6">WBC (10<tspan font-size="20" dy="-11.5">9</tspan><tspan dy="11.5">/L)</tspan></text>
<path d="M872.6 1138.38V1166.42M868.4 1138.38h8.4M868.4 1166.42h8.4M868.4 1152.4h8.4M922.6 1145.83V1176.49M918.4 1145.83h8.4M918.4 1176.49h8.4M918.4 1161.6h8.4M972.6 1123.49V1165.54M968.4 1123.49h8.4M968.4 1165.54h8.4M968.4 1144.95h8.4M1022.6 1136.19V1173.42M1018.4 1136.19h8.4M1018.4 1173.42h8.4M1018.4 1154.15h8.4M1072.6 1162.47V1185.25M1068.4 1162.47h8.4M1068.4 1185.25h8.4M1068.4 1173.42h8.4M1122.6 1160.28V1194.01M1118.4 1160.28h8.4M1118.4 1194.01h8.4M1118.4 1176.49h8.4" fill="none" stroke="#231f20" stroke-width="2.3"/>
<g fill="#b3b3b3"><circle cx="872.6" cy="1125.68" r="2.9"/><circle cx="872.6" cy="1145.83" r="2.9"/><circle cx="863.55" cy="1156.34" r="2.9"/><circle cx="881.17" cy="1156.34" r="2.9"/><circle cx="881.17" cy="1145.83" r="2.9"/><circle cx="872.6" cy="1160.28" r="2.9"/><circle cx="872.6" cy="1166.42" r="2.9"/><circle cx="881.17" cy="1166.42" r="2.9"/><circle cx="922.6" cy="1137.07" r="2.9"/><circle cx="929.74" cy="1139.7" r="2.9"/><circle cx="929.74" cy="1156.78" r="2.9"/><circle cx="922.6" cy="1160.28" r="2.9"/><circle cx="914.5" cy="1172.11" r="2.9"/><circle cx="929.74" cy="1174.3" r="2.9"/><circle cx="922.6" cy="1176.49" r="2.9"/><circle cx="916.89" cy="1172.11" r="2.9"/><circle cx="972.6" cy="1098.96" r="2.9"/><circle cx="972.6" cy="1137.07" r="2.9"/><circle cx="982.12" cy="1139.7" r="2.9"/><circle cx="964.5" cy="1150.65" r="2.9"/><circle cx="972.6" cy="1150.65" r="2.9"/><circle cx="979.74" cy="1150.65" r="2.9"/><circle cx="972.6" cy="1165.54" r="2.9"/><circle cx="979.74" cy="1165.54" r="2.9"/><circle cx="1022.6" cy="1126.56" r="2.9"/><circle cx="1022.6" cy="1137.07" r="2.9"/><circle cx="1030.22" cy="1150.65" r="2.9"/><circle cx="1022.6" cy="1156.34" r="2.9"/><circle cx="1022.6" cy="1163.79" r="2.9"/><circle cx="1022.6" cy="1174.3" r="2.9"/><circle cx="1022.6" cy="1179.12" r="2.9"/><circle cx="1030.22" cy="1179.12" r="2.9"/><circle cx="1072.6" cy="1153.71" r="2.9"/><circle cx="1072.6" cy="1167.29" r="2.9"/><circle cx="1064.5" cy="1181.31" r="2.9"/><circle cx="1072.6" cy="1181.31" r="2.9"/><circle cx="1081.17" cy="1179.99" r="2.9"/><circle cx="1072.6" cy="1184.81" r="2.9"/><circle cx="1122.6" cy="1158.09" r="2.9"/><circle cx="1115.46" cy="1167.29" r="2.9"/><circle cx="1129.74" cy="1168.61" r="2.9"/><circle cx="1122.6" cy="1176.49" r="2.9"/><circle cx="1122.6" cy="1190.94" r="2.9"/><circle cx="1122.6" cy="1202.33" r="2.9"/></g>
</g>
<g class="ch">
<path d="M1243.3 1064.8V1240H1545.3" fill="none" stroke="#231f20" stroke-width="2.1"/>
<path d="M1235.3 1181.6H1243.3M1235.3 1123.2H1243.3M1235.3 1064.8H1243.3M1268.3 1240V1248.5M1318.3 1240V1248.5M1368.3 1240V1248.5M1418.3 1240V1248.5M1468.3 1240V1248.5M1518.3 1240V1248.5" fill="none" stroke="#231f20" stroke-width="2.1"/>
<text x="1227.8" y="1248.5" text-anchor="end" font-size="24">0</text>
<text x="1227.8" y="1190.1" text-anchor="end" font-size="24">5</text>
<text x="1227.8" y="1131.7" text-anchor="end" font-size="24">10</text>
<text x="1227.8" y="1073.3" text-anchor="end" font-size="24">15</text>
<text x="1268.3" y="1269.6" text-anchor="middle" font-size="24">0d</text>
<text x="1268.3" y="1294" text-anchor="middle" font-size="22.5" textLength="41" lengthAdjust="spacingAndGlyphs">(n=8)</text>
<text x="1318.3" y="1269.6" text-anchor="middle" font-size="24">1w</text>
<text x="1318.3" y="1294" text-anchor="middle" font-size="22.5" textLength="41" lengthAdjust="spacingAndGlyphs">(n=8)</text>
<text x="1368.3" y="1269.6" text-anchor="middle" font-size="24">2w</text>
<text x="1368.3" y="1294" text-anchor="middle" font-size="22.5" textLength="41" lengthAdjust="spacingAndGlyphs">(n=8)</text>
<text x="1418.3" y="1269.6" text-anchor="middle" font-size="24">4w</text>
<text x="1418.3" y="1294" text-anchor="middle" font-size="22.5" textLength="41" lengthAdjust="spacingAndGlyphs">(n=8)</text>
<text x="1468.3" y="1269.6" text-anchor="middle" font-size="24">8w</text>
<text x="1468.3" y="1294" text-anchor="middle" font-size="22.5" textLength="41" lengthAdjust="spacingAndGlyphs">(n=6)</text>
<text x="1518.3" y="1269.6" text-anchor="middle" font-size="24">12w</text>
<text x="1518.3" y="1294" text-anchor="middle" font-size="22.5" textLength="41" lengthAdjust="spacingAndGlyphs">(n=6)</text>
<text x="1394.3" y="1057.6" text-anchor="middle" font-size="28.6">Hb (g/dL)</text>
<path d="M1268.3 1108.6V1129.04M1264.1 1108.6h8.4M1264.1 1129.04h8.4M1264.1 1118.53h8.4M1318.3 1119.7V1140.02M1314.1 1119.7h8.4M1314.1 1140.02h8.4M1314.1 1129.04h8.4M1368.3 1117.36V1138.38M1364.1 1117.36h8.4M1364.1 1138.38h8.4M1364.1 1127.87h8.4M1418.3 1107.67V1137.68M1414.1 1107.67h8.4M1414.1 1137.68h8.4M1414.1 1122.85h8.4M1468.3 1105.21V1133.83M1464.1 1105.21h8.4M1464.1 1133.83h8.4M1464.1 1119.7h8.4M1518.3 1099.61V1144.81M1514.1 1099.61h8.4M1514.1 1144.81h8.4M1514.1 1122.85h8.4" fill="none" stroke="#231f20" stroke-width="2.3"/>
<g fill="#b3b3b3"><circle cx="1261.16" cy="1107.67" r="2.9"/><circle cx="1268.3" cy="1105.68" r="2.9"/><circle cx="1275.44" cy="1109.18" r="2.9"/><circle cx="1261.16" cy="1120.86" r="2.9"/><circle cx="1268.3" cy="1118.88" r="2.9"/><circle cx="1276.4" cy="1124.37" r="2.9"/><circle cx="1268.3" cy="1129.04" r="2.9"/><circle cx="1268.3" cy="1137.22" r="2.9"/><circle cx="1318.3" cy="1115.72" r="2.9"/><circle cx="1326.4" cy="1119.7" r="2.9"/><circle cx="1312.11" cy="1124.37" r="2.9"/><circle cx="1318.3" cy="1129.04" r="2.9"/><circle cx="1326.4" cy="1131.38" r="2.9"/><circle cx="1318.3" cy="1137.68" r="2.9"/><circle cx="1312.11" cy="1136.05" r="2.9"/><circle cx="1318.3" cy="1149.48" r="2.9"/><circle cx="1368.3" cy="1113.86" r="2.9"/><circle cx="1377.82" cy="1119.7" r="2.9"/><circle cx="1359.73" cy="1123.43" r="2.9"/><circle cx="1368.3" cy="1129.04" r="2.9"/><circle cx="1376.4" cy="1136.05" r="2.9"/><circle cx="1362.11" cy="1136.05" r="2.9"/><circle cx="1368.3" cy="1142.36" r="2.9"/><circle cx="1418.3" cy="1099.02" r="2.9"/><circle cx="1418.3" cy="1107.67" r="2.9"/><circle cx="1425.44" cy="1120.86" r="2.9"/><circle cx="1411.16" cy="1120.86" r="2.9"/><circle cx="1418.3" cy="1129.04" r="2.9"/><circle cx="1411.16" cy="1137.68" r="2.9"/><circle cx="1418.3" cy="1137.68" r="2.9"/><circle cx="1468.3" cy="1095.75" r="2.9"/><circle cx="1468.3" cy="1110" r="2.9"/><circle cx="1463.54" cy="1119.7" r="2.9"/><circle cx="1468.3" cy="1124.37" r="2.9"/><circle cx="1476.4" cy="1130.56" r="2.9"/><circle cx="1468.3" cy="1131.38" r="2.9"/><circle cx="1518.3" cy="1099.61" r="2.9"/><circle cx="1525.44" cy="1105.68" r="2.9"/><circle cx="1518.3" cy="1110" r="2.9"/><circle cx="1518.3" cy="1133.71" r="2.9"/><circle cx="1518.3" cy="1126.7" r="2.9"/><circle cx="1518.3" cy="1159.06" r="2.9"/></g>
</g>
<g class="ch">
<path d="M1639.7 1064.8V1239.8H1941.7" fill="none" stroke="#231f20" stroke-width="2.1"/>
<path d="M1631.7 1204.8H1639.7M1631.7 1169.8H1639.7M1631.7 1134.8H1639.7M1631.7 1099.8H1639.7M1631.7 1064.8H1639.7M1664.7 1239.8V1248.3M1714.7 1239.8V1248.3M1764.7 1239.8V1248.3M1814.7 1239.8V1248.3M1864.7 1239.8V1248.3M1914.7 1239.8V1248.3" fill="none" stroke="#231f20" stroke-width="2.1"/>
<text x="1624.2" y="1248.3" text-anchor="end" font-size="24">0</text>
<text x="1624.2" y="1213.3" text-anchor="end" font-size="24">200</text>
<text x="1624.2" y="1178.3" text-anchor="end" font-size="24">400</text>
<text x="1624.2" y="1143.3" text-anchor="end" font-size="24">600</text>
<text x="1624.2" y="1108.3" text-anchor="end" font-size="24">800</text>
<text x="1624.2" y="1073.3" text-anchor="end" font-size="24">1000</text>
<text x="1664.7" y="1269.4" text-anchor="middle" font-size="24">0d</text>
<text x="1664.7" y="1293.8" text-anchor="middle" font-size="22.5" textLength="41" lengthAdjust="spacingAndGlyphs">(n=8)</text>
<text x="1714.7" y="1269.4" text-anchor="middle" font-size="24">1w</text>
<text x="1714.7" y="1293.8" text-anchor="middle" font-size="22.5" textLength="41" lengthAdjust="spacingAndGlyphs">(n=8)</text>
<text x="1764.7" y="1269.4" text-anchor="middle" font-size="24">2w</text>
<text x="1764.7" y="1293.8" text-anchor="middle" font-size="22.5" textLength="41" lengthAdjust="spacingAndGlyphs">(n=8)</text>
<text x="1814.7" y="1269.4" text-anchor="middle" font-size="24">4w</text>
<text x="1814.7" y="1293.8" text-anchor="middle" font-size="22.5" textLength="41" lengthAdjust="spacingAndGlyphs">(n=8)</text>
<text x="1864.7" y="1269.4" text-anchor="middle" font-size="24">8w</text>
<text x="1864.7" y="1293.8" text-anchor="middle" font-size="22.5" textLength="41" lengthAdjust="spacingAndGlyphs">(n=6)</text>
<text x="1914.7" y="1269.4" text-anchor="middle" font-size="24">12w</text>
<text x="1914.7" y="1293.8" text-anchor="middle" font-size="22.5" textLength="41" lengthAdjust="spacingAndGlyphs">(n=6)</text>
<text x="1790.7" y="1056.4" text-anchor="middle" font-size="28.6">Platelet (10<tspan font-size="20" dy="-11.5">9</tspan><tspan dy="11.5">/L)</tspan></text>
<path d="M1664.7 1131.47V1190.97M1660.5 1131.47h8.4M1660.5 1190.97h8.4M1660.5 1161.22h8.4M1714.7 1133.58V1201.65M1710.5 1133.58h8.4M1710.5 1201.65h8.4M1710.5 1167.7h8.4M1764.7 1137.6V1173.3M1760.5 1137.6h8.4M1760.5 1173.3h8.4M1760.5 1155.27h8.4M1814.7 1134.8V1174.88M1810.5 1134.8h8.4M1810.5 1174.88h8.4M1810.5 1154.75h8.4M1864.7 1112.92V1209.52M1860.5 1112.92h8.4M1860.5 1209.52h8.4M1860.5 1161.22h8.4M1914.7 1161.22V1194.65M1910.5 1161.22h8.4M1910.5 1194.65h8.4M1910.5 1178.2h8.4" fill="none" stroke="#231f20" stroke-width="2.3"/>
<g fill="#b3b3b3"><circle cx="1664.7" cy="1130.25" r="2.9"/><circle cx="1672.8" cy="1132.7" r="2.9"/><circle cx="1664.7" cy="1138.65" r="2.9"/><circle cx="1664.7" cy="1150.02" r="2.9"/><circle cx="1664.7" cy="1165.42" r="2.9"/><circle cx="1664.7" cy="1172.6" r="2.9"/><circle cx="1664.7" cy="1186.77" r="2.9"/><circle cx="1664.7" cy="1215.3" r="2.9"/><circle cx="1714.7" cy="1122.2" r="2.9"/><circle cx="1714.7" cy="1138.65" r="2.9"/><circle cx="1714.7" cy="1148.1" r="2.9"/><circle cx="1721.84" cy="1161.75" r="2.9"/><circle cx="1714.7" cy="1167.7" r="2.9"/><circle cx="1714.7" cy="1174.35" r="2.9"/><circle cx="1714.7" cy="1217.22" r="2.9"/><circle cx="1721.84" cy="1214.08" r="2.9"/><circle cx="1764.7" cy="1133.92" r="2.9"/><circle cx="1772.32" cy="1136.2" r="2.9"/><circle cx="1764.7" cy="1146.88" r="2.9"/><circle cx="1772.32" cy="1148.1" r="2.9"/><circle cx="1756.37" cy="1158.77" r="2.9"/><circle cx="1764.7" cy="1159.65" r="2.9"/><circle cx="1764.7" cy="1181.52" r="2.9"/><circle cx="1772.32" cy="1178.38" r="2.9"/><circle cx="1814.7" cy="1127.45" r="2.9"/><circle cx="1823.03" cy="1136.55" r="2.9"/><circle cx="1814.7" cy="1139.35" r="2.9"/><circle cx="1814.7" cy="1148.1" r="2.9"/><circle cx="1814.7" cy="1166.65" r="2.9"/><circle cx="1822.32" cy="1169.1" r="2.9"/><circle cx="1814.7" cy="1174.35" r="2.9"/><circle cx="1807.32" cy="1179.08" r="2.9"/><circle cx="1864.7" cy="1080.2" r="2.9"/><circle cx="1864.7" cy="1148.62" r="2.9"/><circle cx="1864.7" cy="1158.77" r="2.9"/><circle cx="1864.7" cy="1171.55" r="2.9"/><circle cx="1864.7" cy="1180.83" r="2.9"/><circle cx="1864.7" cy="1228.42" r="2.9"/><circle cx="1908.51" cy="1167.7" r="2.9"/><circle cx="1914.7" cy="1161.75" r="2.9"/><circle cx="1921.13" cy="1167.7" r="2.9"/><circle cx="1914.7" cy="1179.08" r="2.9"/><circle cx="1914.7" cy="1186.77" r="2.9"/><circle cx="1914.7" cy="1205.67" r="2.9"/></g>
</g>
<path d="M157.3 1480.5V1840.8H733" fill="none" stroke="#231f20" stroke-width="2.6"/>
<path d="M146.3 1789.33H157.3M146.3 1737.86H157.3M146.3 1686.39H157.3M146.3 1634.91H157.3M146.3 1583.44H157.3M146.3 1531.97H157.3M146.3 1480.5H157.3M199.2 1840.8V1851.8M283.33 1840.8V1851.8M367.46 1840.8V1851.8M451.59 1840.8V1851.8M535.72 1840.8V1851.8M619.85 1840.8V1851.8M703.98 1840.8V1851.8" fill="none" stroke="#231f20" stroke-width="2.6"/>
<text x="138" y="1850.8" text-anchor="end" font-size="28">0</text>
<text x="138" y="1799.33" text-anchor="end" font-size="28">0.005</text>
<text x="138" y="1747.86" text-anchor="end" font-size="28">0.010</text>
<text x="138" y="1696.39" text-anchor="end" font-size="28">0.015</text>
<text x="138" y="1644.91" text-anchor="end" font-size="28">0.020</text>
<text x="138" y="1593.44" text-anchor="end" font-size="28">0.025</text>
<text x="138" y="1541.97" text-anchor="end" font-size="28">0.030</text>
<text x="138" y="1490.5" text-anchor="end" font-size="28">0.035</text>
<text x="199.2" y="1880.6" text-anchor="middle" font-size="27">0d</text>
<text x="283.33" y="1880.6" text-anchor="middle" font-size="27">1d</text>
<text x="367.46" y="1880.6" text-anchor="middle" font-size="27">1w</text>
<text x="451.59" y="1880.6" text-anchor="middle" font-size="27">2w</text>
<text x="535.72" y="1880.6" text-anchor="middle" font-size="27">4w</text>
<text x="619.85" y="1880.6" text-anchor="middle" font-size="27">8w</text>
<text x="703.98" y="1880.6" text-anchor="middle" font-size="27">12w</text>
<text x="446.2" y="1470.9" text-anchor="middle" font-size="28.7">Non-ablation (n=5)</text>
<text transform="translate(37.5 1660.3) rotate(-90)" text-anchor="middle" font-size="28.7">Galium concentration (µg/mL)</text>
<path d="M199.2 1832.67 L283.33 1713.15 L367.46 1509.02 L451.59 1749.8 L535.72 1788.71 L619.85 1800.96 L703.98 1806.83" fill="none" stroke="#0f65b3" stroke-width="5.6" stroke-linejoin="miter" stroke-linecap="round"/>
<path d="M199.2 1832.67 L283.33 1737.55 L367.46 1804.15 L451.59 1815.89 L535.72 1807.76 L619.85 1812.28 L703.98 1766.99" fill="none" stroke="#a5a5a5" stroke-width="5.6" stroke-linejoin="miter" stroke-linecap="round"/>
<path d="M199.2 1832.67 L283.33 1707.28 L367.46 1794.17 L451.59 1816.81 L535.72 1821.34 L619.85 1825.87 L703.98 1825.87" fill="none" stroke="#e87a2c" stroke-width="5.6" stroke-linejoin="miter" stroke-linecap="round"/>
<path d="M199.2 1832.67 L283.33 1743.52 L367.46 1795.09 L451.59 1785.11 L535.72 1781.5 L619.85 1760.2 L703.98 1766.17" fill="none" stroke="#f8bd16" stroke-width="5.6" stroke-linejoin="miter" stroke-linecap="round"/>
<path d="M199.2 1832.67 L283.33 1807.76 L367.46 1832.67 L451.59 1832.67 L535.72 1832.67 L619.85 1832.67 L703.98 1832.67" fill="none" stroke="#5b9bd5" stroke-width="5.6" stroke-linejoin="miter" stroke-linecap="round"/>
<text x="382.3" y="1511.6" font-size="26.4" fill="#1a68b3">Subject #13</text>
<text x="213.5" y="1692.6" font-size="26.4" fill="#e4762c">Subject #14</text>
<text x="559.5" y="1745.7" font-size="26.4" fill="#f2b51a">Subject #16</text>
<text x="714" y="1780" font-size="26.4" fill="#a5a5a5">Subject #15</text>
<text x="714" y="1835.7" font-size="26.4" fill="#4a8ccc">Subject #17</text>
<path d="M1311 1480V1841H1887" fill="none" stroke="#231f20" stroke-width="2.6"/>
<path d="M1300 1789.43H1311M1300 1737.86H1311M1300 1686.29H1311M1300 1634.71H1311M1300 1583.14H1311M1300 1531.57H1311M1300 1480H1311M1352.8 1841V1852M1436.85 1841V1852M1520.9 1841V1852M1604.95 1841V1852M1689 1841V1852M1773.05 1841V1852M1857.1 1841V1852" fill="none" stroke="#231f20" stroke-width="2.6"/>
<text x="1293.3" y="1851" text-anchor="end" font-size="28">0</text>
<text x="1293.3" y="1799.43" text-anchor="end" font-size="28">0.005</text>
<text x="1293.3" y="1747.86" text-anchor="end" font-size="28">0.010</text>
<text x="1293.3" y="1696.29" text-anchor="end" font-size="28">0.015</text>
<text x="1293.3" y="1644.71" text-anchor="end" font-size="28">0.020</text>
<text x="1293.3" y="1593.14" text-anchor="end" font-size="28">0.025</text>
<text x="1293.3" y="1541.57" text-anchor="end" font-size="28">0.030</text>
<text x="1293.3" y="1490" text-anchor="end" font-size="28">0.035</text>
<text x="1352.8" y="1880.6" text-anchor="middle" font-size="27">0d</text>
<text x="1436.85" y="1880.6" text-anchor="middle" font-size="27">1d</text>
<text x="1520.9" y="1880.6" text-anchor="middle" font-size="27">1w</text>
<text x="1604.95" y="1880.6" text-anchor="middle" font-size="27">2w</text>
<text x="1689" y="1880.6" text-anchor="middle" font-size="27">4w</text>
<text x="1773.05" y="1880.6" text-anchor="middle" font-size="27">8w</text>
<text x="1857.1" y="1880.6" text-anchor="middle" font-size="27">12w</text>
<text x="1599.5" y="1471.9" text-anchor="middle" font-size="28.7">Ablation (n=3)</text>
<text transform="translate(1194 1659.3) rotate(-90)" text-anchor="middle" font-size="28.7">Galium concentration (µg/mL)</text>
<path d="M1352.8 1836.7 L1689 1831.4" fill="none" stroke="#4472c4" stroke-width="3" stroke-linejoin="miter" stroke-linecap="round"/>
<path d="M1689 1831.4 L1773.05 1825.7 L1857.1 1825.7" fill="none" stroke="#4472c4" stroke-width="6.2" stroke-linejoin="miter" stroke-linecap="round"/>
<path d="M1352.8 1834.3 L1689 1828.1" fill="none" stroke="#ed7d31" stroke-width="6.8" stroke-linecap="butt"/>
<path d="M1352.8 1834.3 L1520.9 1796.2 L1604.95 1790 L1689 1834.3" fill="none" stroke="#9c1b5d" stroke-width="5.6" stroke-linejoin="miter" stroke-linecap="round"/>
<text x="1433.3" y="1776.7" font-size="26.4" fill="#9c1b5d">Subject #20</text>
<text x="1640.9" y="1794.8" font-size="26.4" fill="#ed7d31">Subject #19</text>
<text x="1806.1" y="1811.4" font-size="26.4" fill="#4472c4">Subject #18</text>
<path d="M157.3 2076.4V2472.7H1056.7" fill="none" stroke="#231f20" stroke-width="2.6"/>
<path d="M146.7 2403.3H157.3M146.7 2356.6H157.3M146.7 2309.9H157.3M146.7 2263.2H157.3M146.7 2216.5H157.3M146.7 2169.8H157.3M146.7 2123.1H157.3M146.7 2076.4H157.3M237.7 2472.7V2485M360.7 2472.7V2485M484 2472.7V2485M608.3 2472.7V2485M731.7 2472.7V2485M855 2472.7V2485M978.3 2472.7V2485" fill="none" stroke="#231f20" stroke-width="2.6"/>
<text x="139.3" y="2413.3" text-anchor="end" font-size="27.7">0</text>
<text x="139.3" y="2366.6" text-anchor="end" font-size="27.7">0.005</text>
<text x="139.3" y="2319.9" text-anchor="end" font-size="27.7">0.010</text>
<text x="139.3" y="2273.2" text-anchor="end" font-size="27.7">0.015</text>
<text x="139.3" y="2226.5" text-anchor="end" font-size="27.7">0.020</text>
<text x="139.3" y="2179.8" text-anchor="end" font-size="27.7">0.025</text>
<text x="139.3" y="2133.1" text-anchor="end" font-size="27.7">0.030</text>
<text x="139.3" y="2086.4" text-anchor="end" font-size="27.7">0.035</text>
<text x="237.7" y="2513.3" text-anchor="middle" font-size="27.4">0d</text>
<text x="237.7" y="2543" text-anchor="middle" font-size="24">(n=8)</text>
<text x="360.7" y="2513.3" text-anchor="middle" font-size="27.4">1d</text>
<text x="360.7" y="2543" text-anchor="middle" font-size="24">(n=8)</text>
<text x="484" y="2513.3" text-anchor="middle" font-size="27.4">1w</text>
<text x="484" y="2543" text-anchor="middle" font-size="24">(n=8)</text>
<text x="608.3" y="2513.3" text-anchor="middle" font-size="27.4">2w</text>
<text x="608.3" y="2543" text-anchor="middle" font-size="24">(n=8)</text>
<text x="731.7" y="2513.3" text-anchor="middle" font-size="27.4">4w</text>
<text x="731.7" y="2543" text-anchor="middle" font-size="24">(n=8)</text>
<text x="855" y="2513.3" text-anchor="middle" font-size="27.4">8w</text>
<text x="855" y="2543" text-anchor="middle" font-size="24">(n=6)</text>
<text x="978.3" y="2513.3" text-anchor="middle" font-size="27.4">12w</text>
<text x="978.3" y="2543" text-anchor="middle" font-size="24">(n=6)</text>
<text x="607.6" y="2047.7" text-anchor="middle" font-size="28.8">E-Galn blood concentration</text>
<text transform="translate(38.3 2269.9) rotate(-90)" text-anchor="middle" font-size="28.7">Concentration (µg/mL)</text>
<circle cx="952.7" cy="2106" r="12.6" fill="#e3147c"/><circle cx="952.7" cy="2146.7" r="12.6" fill="#1b6db7"/>
<text x="979.3" y="2114.3" font-size="27.4">Ga</text><text x="986.7" y="2155.7" font-size="27.4">In</text>
<path d="M204.5 2404.3h12.4M334 2300V2396.7M327.8 2300h12.4M327.8 2396.7h12.4M327.8 2348.3h12.4M457.7 2250.7V2448.3M451.5 2250.7h12.4M451.5 2448.3h12.4M451.5 2349h12.4M580.7 2351.7V2406M574.5 2351.7h12.4M574.5 2406h12.4M574.5 2378.3h12.4M704 2367.7V2406M697.8 2367.7h12.4M697.8 2406h12.4M697.8 2386h12.4M827.3 2356.7V2406M821.1 2356.7h12.4M821.1 2406h12.4M821.1 2381.7h12.4M951 2348.3V2404M944.8 2348.3h12.4M944.8 2404h12.4M944.8 2376.7h12.4M257.8 2404h12.4M382.8 2404h12.4M512.3 2396V2406.7M506.1 2396h12.4M506.1 2406.7h12.4M506.1 2402h12.4M628.8 2404h12.4M754.6 2404h12.4M877.1 2404h12.4M996.8 2404h12.4" fill="none" stroke="#231f20" stroke-width="2.9"/>
<g fill="#e3147c"><circle cx="184.3" cy="2402.7" r="3.3"/><circle cx="191.45" cy="2402.7" r="3.3"/><circle cx="198.6" cy="2402.7" r="3.3"/><circle cx="205.75" cy="2402.7" r="3.3"/><circle cx="212.9" cy="2402.7" r="3.3"/><circle cx="220.05" cy="2402.7" r="3.3"/><circle cx="227.2" cy="2402.7" r="3.3"/><circle cx="234.35" cy="2402.7" r="3.3"/><circle cx="333.33" cy="2288.33" r="3.3"/><circle cx="340" cy="2291" r="3.3"/><circle cx="334" cy="2316.67" r="3.3"/><circle cx="334" cy="2323.33" r="3.3"/><circle cx="334" cy="2378.33" r="3.3"/><circle cx="334" cy="2386.67" r="3.3"/><circle cx="333.33" cy="2400.67" r="3.3"/><circle cx="342.33" cy="2400.67" r="3.3"/><circle cx="457.67" cy="2107.33" r="3.3"/><circle cx="448.33" cy="2367.67" r="3.3"/><circle cx="457.67" cy="2366.67" r="3.3"/><circle cx="465.67" cy="2368.33" r="3.3"/><circle cx="457.67" cy="2375.67" r="3.3"/><circle cx="450" cy="2401.67" r="3.3"/><circle cx="457.67" cy="2400.67" r="3.3"/><circle cx="465" cy="2402.67" r="3.3"/><circle cx="580.67" cy="2327.33" r="3.3"/><circle cx="580.67" cy="2356.67" r="3.3"/><circle cx="580.67" cy="2365" r="3.3"/><circle cx="580.67" cy="2387.33" r="3.3"/><circle cx="589" cy="2386.67" r="3.3"/><circle cx="573.33" cy="2401.67" r="3.3"/><circle cx="580.67" cy="2402.33" r="3.3"/><circle cx="587.67" cy="2402.33" r="3.3"/><circle cx="704" cy="2356.67" r="3.3"/><circle cx="710.67" cy="2360" r="3.3"/><circle cx="704" cy="2379" r="3.3"/><circle cx="704" cy="2393.33" r="3.3"/><circle cx="699.33" cy="2398.33" r="3.3"/><circle cx="710" cy="2398.33" r="3.3"/><circle cx="704" cy="2402.67" r="3.3"/><circle cx="715" cy="2402.67" r="3.3"/><circle cx="827.33" cy="2336" r="3.3"/><circle cx="827.33" cy="2373.33" r="3.3"/><circle cx="827.33" cy="2383.33" r="3.3"/><circle cx="827.33" cy="2396" r="3.3"/><circle cx="836.67" cy="2396.67" r="3.3"/><circle cx="827.33" cy="2402.67" r="3.3"/><circle cx="951" cy="2341" r="3.3"/><circle cx="958.33" cy="2342.33" r="3.3"/><circle cx="951" cy="2379" r="3.3"/><circle cx="951" cy="2396" r="3.3"/><circle cx="958.33" cy="2396.67" r="3.3"/><circle cx="951" cy="2402.67" r="3.3"/></g><g fill="#1b6db7"><circle cx="242" cy="2402.7" r="3.3"/><circle cx="249" cy="2402.7" r="3.3"/><circle cx="256" cy="2402.7" r="3.3"/><circle cx="263" cy="2402.7" r="3.3"/><circle cx="270" cy="2402.7" r="3.3"/><circle cx="277" cy="2402.7" r="3.3"/><circle cx="284" cy="2402.7" r="3.3"/><circle cx="291" cy="2402.7" r="3.3"/><circle cx="368.3" cy="2402.7" r="3.3"/><circle cx="375.97" cy="2402.7" r="3.3"/><circle cx="383.63" cy="2402.7" r="3.3"/><circle cx="391.3" cy="2402.7" r="3.3"/><circle cx="398.97" cy="2402.7" r="3.3"/><circle cx="406.63" cy="2402.7" r="3.3"/><circle cx="414.3" cy="2402.7" r="3.3"/><circle cx="389" cy="2398.3" r="3.3"/><circle cx="489" cy="2402.7" r="3.3"/><circle cx="496.38" cy="2402.7" r="3.3"/><circle cx="503.77" cy="2402.7" r="3.3"/><circle cx="511.15" cy="2402.7" r="3.3"/><circle cx="518.53" cy="2402.7" r="3.3"/><circle cx="525.92" cy="2402.7" r="3.3"/><circle cx="533.3" cy="2402.7" r="3.3"/><circle cx="512.3" cy="2388" r="3.3"/><circle cx="610" cy="2402.7" r="3.3"/><circle cx="617" cy="2402.7" r="3.3"/><circle cx="624" cy="2402.7" r="3.3"/><circle cx="631" cy="2402.7" r="3.3"/><circle cx="638" cy="2402.7" r="3.3"/><circle cx="645" cy="2402.7" r="3.3"/><circle cx="652" cy="2402.7" r="3.3"/><circle cx="659" cy="2402.7" r="3.3"/><circle cx="635" cy="2400" r="3.3"/><circle cx="736" cy="2402.7" r="3.3"/><circle cx="743.1" cy="2402.7" r="3.3"/><circle cx="750.2" cy="2402.7" r="3.3"/><circle cx="757.3" cy="2402.7" r="3.3"/><circle cx="764.4" cy="2402.7" r="3.3"/><circle cx="771.5" cy="2402.7" r="3.3"/><circle cx="778.6" cy="2402.7" r="3.3"/><circle cx="785.7" cy="2402.7" r="3.3"/><circle cx="760.8" cy="2400" r="3.3"/><circle cx="862.3" cy="2402.7" r="3.3"/><circle cx="870.7" cy="2402.7" r="3.3"/><circle cx="879.1" cy="2402.7" r="3.3"/><circle cx="887.5" cy="2402.7" r="3.3"/><circle cx="895.9" cy="2402.7" r="3.3"/><circle cx="904.3" cy="2402.7" r="3.3"/><circle cx="883.3" cy="2400" r="3.3"/><circle cx="982.7" cy="2402.7" r="3.3"/><circle cx="990.82" cy="2402.7" r="3.3"/><circle cx="998.94" cy="2402.7" r="3.3"/><circle cx="1007.06" cy="2402.7" r="3.3"/><circle cx="1015.18" cy="2402.7" r="3.3"/><circle cx="1023.3" cy="2402.7" r="3.3"/><circle cx="1003" cy="2400" r="3.3"/><circle cx="1023.3" cy="2401" r="3.3"/></g>
<path d="M1307.9 2068.2V2459.3H1762.5" fill="none" stroke="#231f20" stroke-width="2.7"/>
<text x="1291" y="2135" text-anchor="end" font-size="22.6">1</text>
<text x="1292" y="2301" text-anchor="end" font-size="22.6">0.5</text>
<text x="1291" y="2463.7" text-anchor="end" font-size="22.6">0</text>
<text x="1307" y="2493" text-anchor="middle" font-size="23.5">0</text>
<text x="1397.5" y="2493" text-anchor="middle" font-size="23.5">0.002</text>
<text x="1487.5" y="2493" text-anchor="middle" font-size="23.5">0.004</text>
<text x="1577.9" y="2493" text-anchor="middle" font-size="23.5">0.006</text>
<text x="1667.9" y="2493" text-anchor="middle" font-size="23.5">0.008</text>
<text x="1757" y="2493" text-anchor="middle" font-size="23.5">0.01</text>
<text x="1534.4" y="2539.6" text-anchor="middle" font-size="28.6">Average serum galium concentration</text>
<text transform="translate(1245.7 2295) rotate(-90)" text-anchor="middle" font-size="28.7">Δ Creatinine</text>
<g fill="#1b9bd7"><circle cx="1313.6" cy="2419.3" r="5.3"/><circle cx="1320.7" cy="2198.6" r="5.3"/><circle cx="1332.1" cy="2353.2" r="5.3"/><circle cx="1401.8" cy="2162.5" r="5.3"/><circle cx="1427.5" cy="2261.4" r="5.3"/><circle cx="1451.1" cy="2388.9" r="5.3"/><circle cx="1578.2" cy="2135.7" r="5.3"/><circle cx="1687.5" cy="2238.2" r="5.3"/></g>
</svg></body></html>
